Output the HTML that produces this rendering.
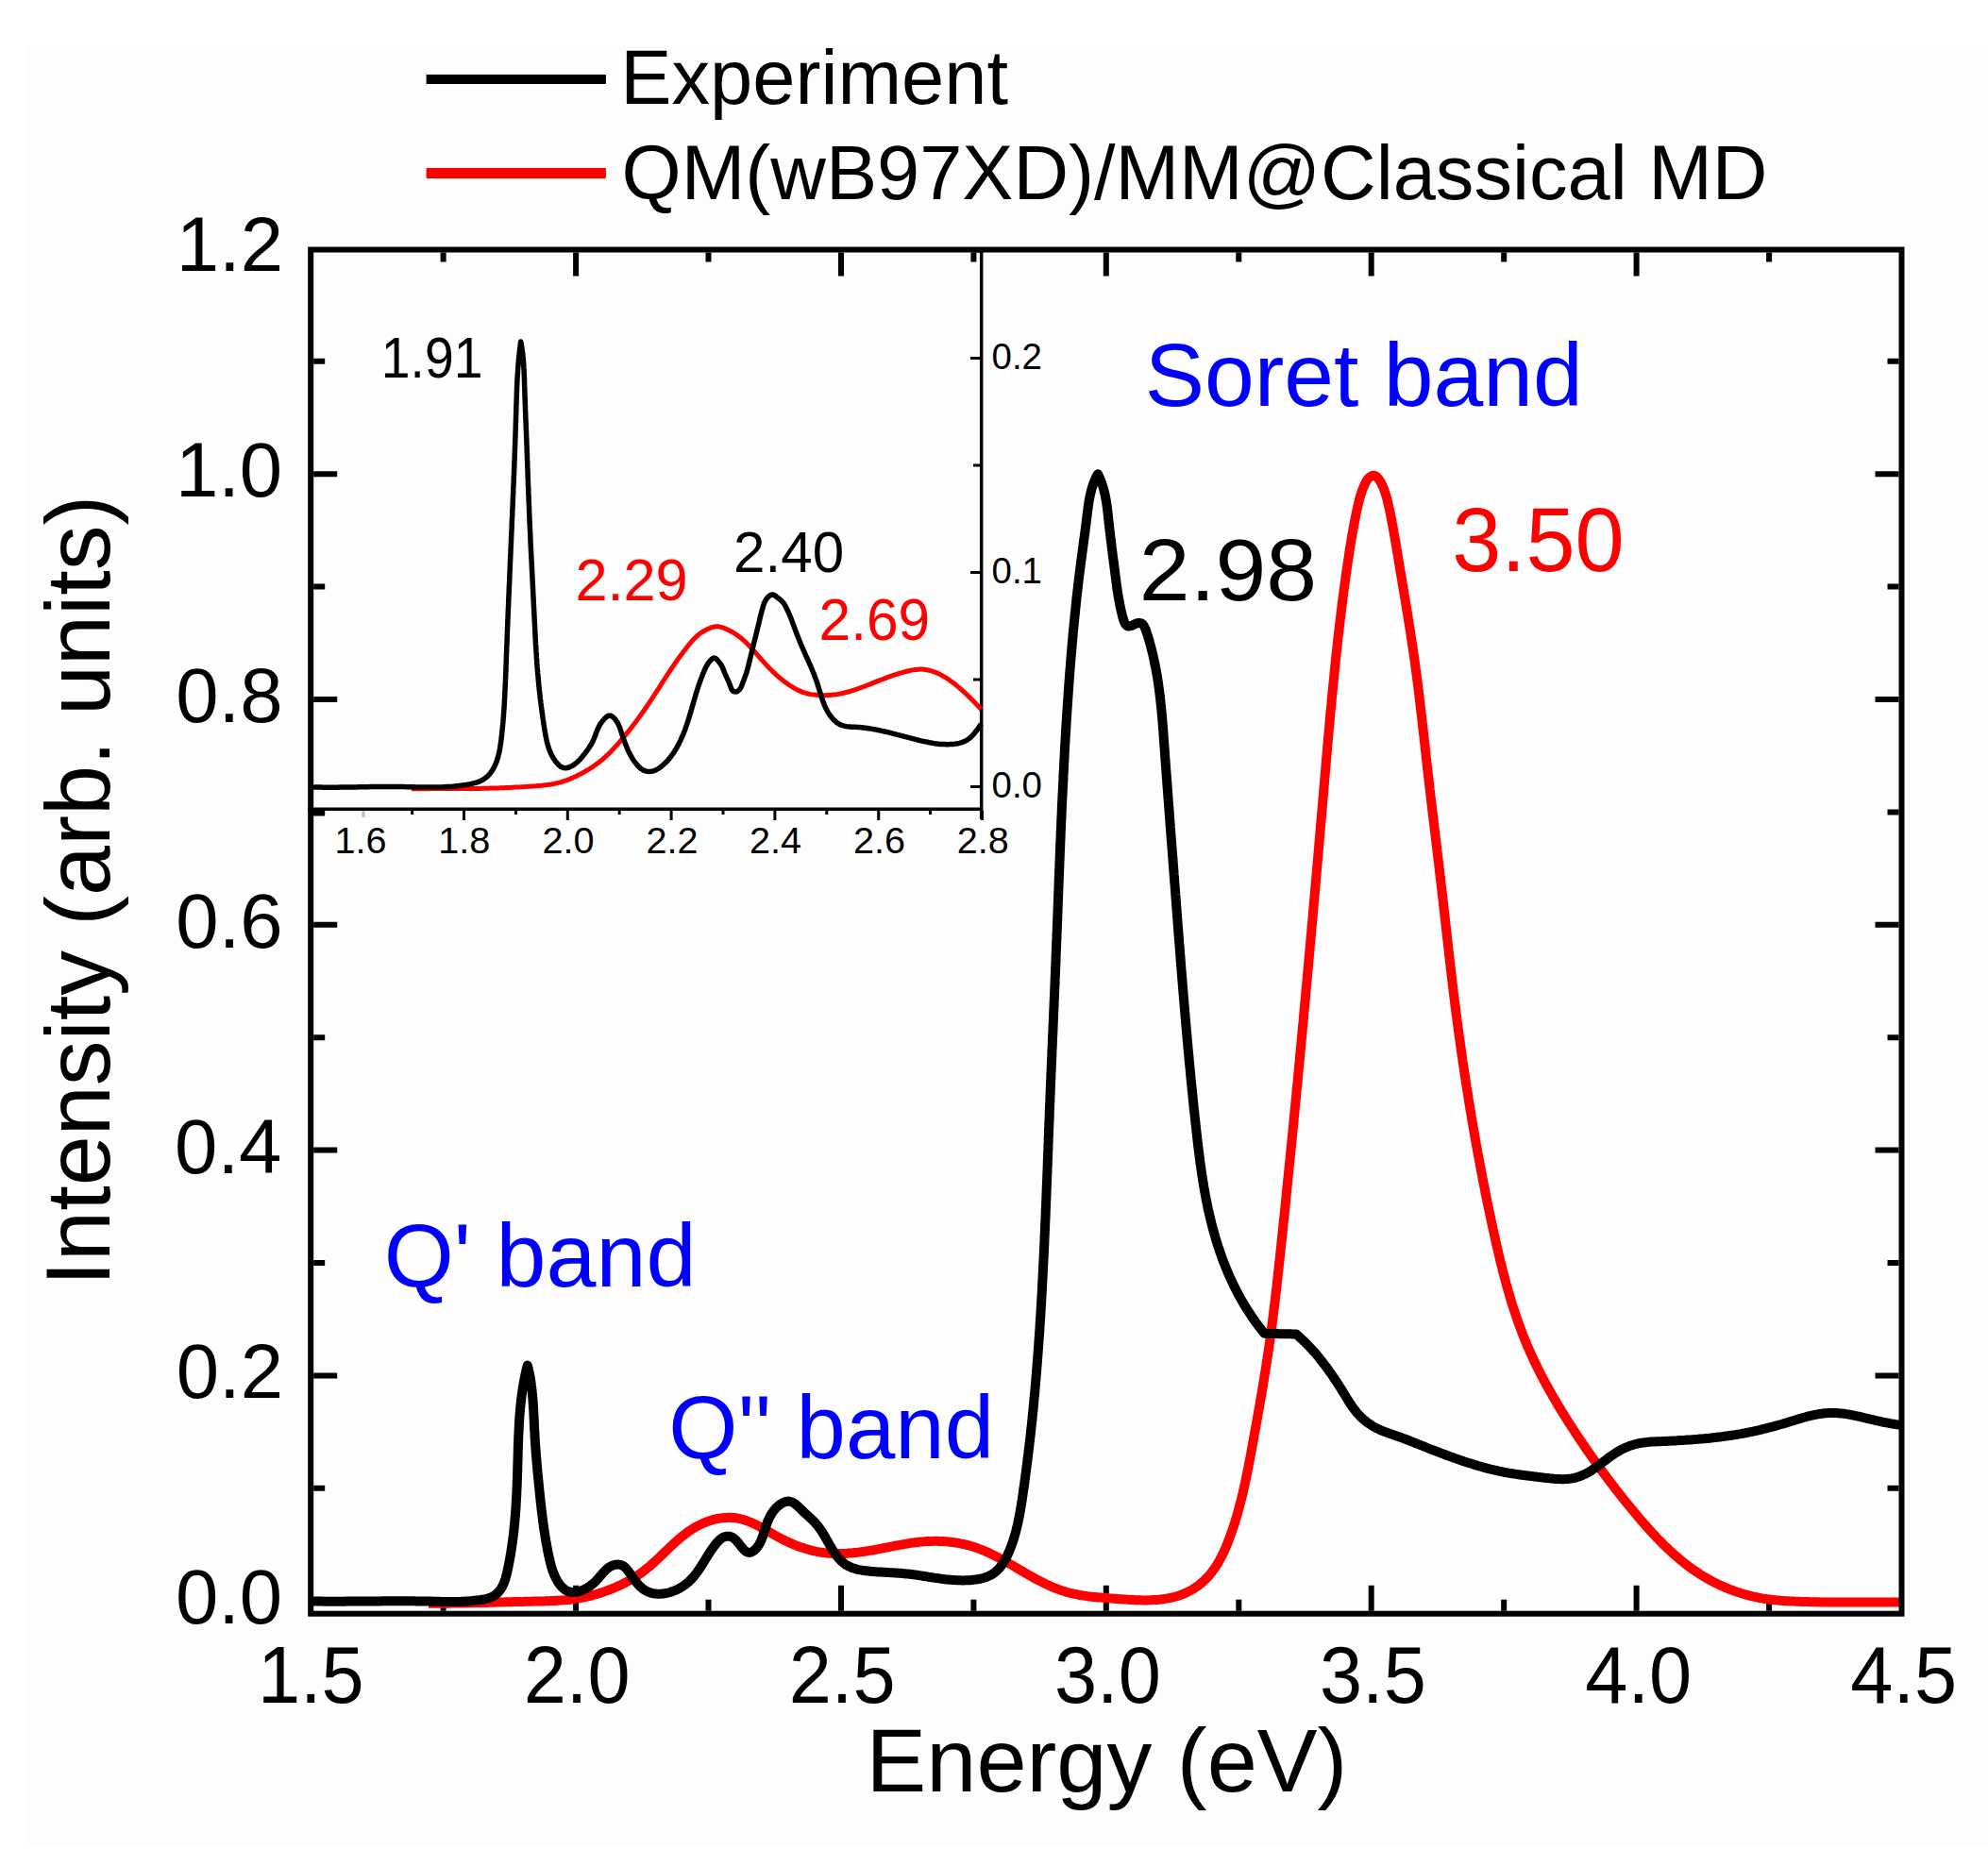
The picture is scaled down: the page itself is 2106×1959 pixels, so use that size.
<!DOCTYPE html>
<html><head><meta charset="utf-8"><title>Absorption spectrum</title>
<style>html,body{margin:0;padding:0;background:#fff;}svg{display:block;}</style></head>
<body>
<svg width="2106" height="1959" viewBox="0 0 2106 1959" style="font-family:'Liberation Sans', Arial, sans-serif">
<rect width="2106" height="1959" fill="#fff"/>
<rect x="28" y="50" width="2078" height="1905" fill="#fefdfe"/>
<line x1="451.6" y1="84" x2="641.9" y2="84" stroke="#000" stroke-width="10"/>
<line x1="451.6" y1="183.6" x2="641.9" y2="183.6" stroke="#f00" stroke-width="11"/>
<text transform="translate(657.34,110.40) scale(0.9903,1)" font-size="82" fill="#000">Experiment</text>
<text transform="translate(658.59,210.80) scale(0.9896,1)" font-size="82" fill="#000">QM(wB97XD)/MM@Classical MD</text>
<path d="M469.6,1706.7V1694.7 M469.6,267.5V277.5 M610.1,1706.7V1679.7 M610.1,267.5V292.5 M750.5,1706.7V1694.7 M750.5,267.5V277.5 M891.0,1706.7V1679.7 M891.0,267.5V292.5 M1031.4,1706.7V1694.7 M1031.4,267.5V277.5 M1171.8,1706.7V1679.7 M1171.8,267.5V292.5 M1312.3,1706.7V1694.7 M1312.3,267.5V277.5 M1452.7,1706.7V1679.7 M1452.7,267.5V292.5 M1593.2,1706.7V1694.7 M1593.2,267.5V277.5 M1733.6,1706.7V1679.7 M1733.6,267.5V292.5 M1874.1,1706.7V1694.7 M1874.1,267.5V277.5 M332.2,1696.2H357.2 M2011.5,1696.2H1986.5 M332.2,1576.8H344.2 M2011.5,1576.8H1999.5 M332.2,1457.4H357.2 M2011.5,1457.4H1986.5 M332.2,1338.0H344.2 M2011.5,1338.0H1999.5 M332.2,1218.6H357.2 M2011.5,1218.6H1986.5 M332.2,1099.2H344.2 M2011.5,1099.2H1999.5 M332.2,979.8H357.2 M2011.5,979.8H1986.5 M332.2,860.4H344.2 M2011.5,860.4H1999.5 M332.2,741.0H357.2 M2011.5,741.0H1986.5 M332.2,621.6H344.2 M2011.5,621.6H1999.5 M332.2,502.2H357.2 M2011.5,502.2H1986.5 M332.2,382.8H344.2 M2011.5,382.8H1999.5" stroke="#000" stroke-width="6" fill="none"/>
<path d="M326,857.2H1041.2M1039.7,264V868" stroke="#000" stroke-width="3.5" fill="none"/>
<path d="M385,859V866" stroke="#bbb" stroke-width="3"/>
<path d="M436.6,858.9V862.9 M491.5,858.9V868.9 M546.4,858.9V862.9 M601.3,858.9V868.9 M656.2,858.9V862.9 M711.1,858.9V868.9 M766.0,858.9V862.9 M820.9,858.9V868.9 M875.8,858.9V862.9 M930.7,858.9V868.9 M985.6,858.9V862.9 M1040.5,858.9V868.9 M1038.0,833.5H1028.0 M1038.0,720.0H1031.0 M1038.0,606.5H1028.0 M1038.0,493.0H1031.0 M1038.0,379.5H1028.0 M1038.0,266.0H1031.0" stroke="#000" stroke-width="3" fill="none"/>
<rect x="332" y="858.5" width="12" height="6" fill="#000"/>
<path d="M454.0,1698.8 L456.0,1698.8 L458.0,1698.8 L460.0,1698.8 L462.0,1698.8 L464.0,1698.8 L466.0,1698.8 L468.0,1698.7 L470.0,1698.7 L472.0,1698.7 L474.0,1698.7 L476.0,1698.7 L478.0,1698.6 L480.0,1698.6 L482.0,1698.6 L484.0,1698.5 L486.0,1698.5 L488.0,1698.5 L490.0,1698.4 L492.0,1698.4 L494.0,1698.4 L496.0,1698.3 L498.0,1698.3 L500.0,1698.2 L502.0,1698.2 L504.0,1698.1 L506.0,1698.1 L508.0,1698.1 L510.0,1698.0 L512.0,1698.0 L514.0,1697.9 L516.0,1697.9 L518.0,1697.8 L520.0,1697.8 L522.0,1697.7 L524.0,1697.7 L526.0,1697.6 L528.0,1697.6 L530.0,1697.5 L532.0,1697.4 L534.0,1697.4 L536.0,1697.3 L538.0,1697.3 L540.0,1697.2 L542.0,1697.2 L544.0,1697.1 L546.0,1697.1 L548.0,1697.0 L550.0,1697.0 L552.0,1696.9 L554.0,1696.9 L556.0,1696.8 L558.0,1696.8 L560.0,1696.8 L562.0,1696.7 L564.0,1696.7 L566.0,1696.6 L568.0,1696.6 L570.0,1696.5 L572.0,1696.5 L573.9,1696.5 L575.9,1696.4 L577.9,1696.3 L579.9,1696.3 L581.9,1696.2 L583.9,1696.1 L585.9,1696.0 L587.9,1695.9 L589.9,1695.8 L591.9,1695.7 L593.9,1695.6 L595.9,1695.4 L597.9,1695.3 L599.8,1695.1 L601.8,1694.9 L603.8,1694.7 L605.8,1694.4 L607.8,1694.2 L609.7,1693.9 L611.7,1693.6 L613.7,1693.3 L615.6,1692.9 L617.6,1692.5 L619.6,1692.1 L621.5,1691.7 L623.5,1691.2 L625.4,1690.8 L627.4,1690.3 L629.3,1689.7 L631.3,1689.2 L633.2,1688.6 L635.1,1688.0 L637.0,1687.4 L638.9,1686.8 L640.8,1686.1 L642.7,1685.4 L644.6,1684.7 L646.5,1684.0 L648.3,1683.2 L650.2,1682.5 L652.0,1681.7 L653.8,1680.9 L655.6,1680.1 L657.4,1679.2 L659.2,1678.4 L661.0,1677.5 L662.7,1676.6 L664.5,1675.7 L666.2,1674.7 L667.9,1673.7 L669.6,1672.7 L671.3,1671.7 L673.0,1670.7 L674.6,1669.6 L676.3,1668.5 L677.9,1667.4 L679.5,1666.2 L681.1,1665.0 L682.7,1663.8 L684.3,1662.6 L685.8,1661.3 L687.3,1660.1 L688.9,1658.8 L690.4,1657.5 L691.9,1656.1 L693.4,1654.8 L694.9,1653.4 L696.3,1652.1 L697.8,1650.7 L699.3,1649.3 L700.7,1647.9 L702.2,1646.5 L703.6,1645.1 L705.1,1643.7 L706.5,1642.3 L708.0,1640.9 L709.4,1639.5 L710.9,1638.1 L712.4,1636.8 L713.8,1635.4 L715.3,1634.0 L716.8,1632.7 L718.3,1631.4 L719.8,1630.1 L721.4,1628.8 L722.9,1627.5 L724.5,1626.3 L726.0,1625.1 L727.6,1623.9 L729.3,1622.7 L730.9,1621.6 L732.6,1620.5 L734.3,1619.4 L736.0,1618.4 L737.7,1617.4 L739.5,1616.5 L741.3,1615.5 L743.1,1614.7 L744.9,1613.9 L746.8,1613.1 L748.6,1612.3 L750.5,1611.7 L752.4,1611.0 L754.3,1610.4 L756.3,1609.9 L758.2,1609.4 L760.1,1609.0 L762.1,1608.7 L764.0,1608.4 L766.0,1608.1 L767.9,1608.0 L769.9,1607.9 L771.8,1607.8 L773.8,1607.8 L775.7,1607.9 L777.7,1608.1 L779.6,1608.3 L781.5,1608.6 L783.4,1609.0 L785.3,1609.5 L787.2,1610.0 L789.0,1610.6 L790.9,1611.2 L792.7,1611.9 L794.6,1612.6 L796.4,1613.4 L798.2,1614.2 L800.1,1615.1 L801.9,1616.0 L803.7,1616.9 L805.5,1617.9 L807.3,1618.9 L809.1,1619.9 L810.9,1620.9 L812.7,1621.9 L814.5,1622.9 L816.3,1623.9 L818.1,1625.0 L819.9,1626.0 L821.7,1627.0 L823.5,1628.0 L825.3,1629.0 L827.1,1629.9 L829.0,1630.9 L830.8,1631.8 L832.6,1632.7 L834.4,1633.5 L836.3,1634.4 L838.1,1635.2 L839.9,1636.0 L841.8,1636.7 L843.6,1637.5 L845.5,1638.2 L847.4,1638.9 L849.2,1639.5 L851.1,1640.1 L853.0,1640.7 L854.9,1641.3 L856.7,1641.8 L858.6,1642.3 L860.5,1642.8 L862.4,1643.3 L864.3,1643.7 L866.3,1644.1 L868.2,1644.4 L870.1,1644.7 L872.0,1645.0 L874.0,1645.3 L875.9,1645.5 L877.9,1645.7 L879.8,1645.8 L881.8,1645.9 L883.8,1646.0 L885.8,1646.1 L887.7,1646.1 L889.7,1646.1 L891.7,1646.1 L893.7,1646.0 L895.7,1645.9 L897.7,1645.8 L899.7,1645.6 L901.7,1645.5 L903.7,1645.3 L905.7,1645.1 L907.7,1644.9 L909.7,1644.6 L911.8,1644.3 L913.8,1644.1 L915.8,1643.8 L917.8,1643.5 L919.8,1643.1 L921.8,1642.8 L923.8,1642.5 L925.8,1642.1 L927.8,1641.7 L929.7,1641.4 L931.7,1641.0 L933.7,1640.6 L935.7,1640.2 L937.7,1639.8 L939.6,1639.5 L941.6,1639.1 L943.6,1638.7 L945.5,1638.3 L947.5,1637.9 L949.5,1637.5 L951.4,1637.2 L953.4,1636.8 L955.4,1636.5 L957.3,1636.1 L959.3,1635.8 L961.3,1635.5 L963.2,1635.1 L965.2,1634.8 L967.2,1634.6 L969.1,1634.3 L971.1,1634.1 L973.1,1633.8 L975.1,1633.6 L977.0,1633.4 L979.0,1633.3 L981.0,1633.1 L983.0,1633.0 L985.0,1632.9 L986.9,1632.9 L988.9,1632.8 L990.9,1632.8 L992.9,1632.8 L994.9,1632.9 L996.9,1632.9 L998.9,1633.0 L1000.9,1633.2 L1002.9,1633.3 L1004.9,1633.5 L1006.8,1633.7 L1008.8,1633.9 L1010.8,1634.2 L1012.8,1634.5 L1014.7,1634.8 L1016.7,1635.2 L1018.6,1635.6 L1020.6,1636.0 L1022.5,1636.4 L1024.4,1636.9 L1026.4,1637.4 L1028.3,1637.9 L1030.2,1638.5 L1032.1,1639.1 L1033.9,1639.7 L1035.8,1640.4 L1037.7,1641.1 L1039.5,1641.8 L1041.4,1642.5 L1043.2,1643.3 L1045.0,1644.1 L1046.8,1644.9 L1048.6,1645.7 L1050.4,1646.6 L1052.2,1647.5 L1054.0,1648.4 L1055.8,1649.3 L1057.5,1650.2 L1059.3,1651.1 L1061.1,1652.1 L1062.8,1653.0 L1064.6,1654.0 L1066.3,1655.0 L1068.1,1656.0 L1069.8,1657.0 L1071.6,1658.0 L1073.3,1659.0 L1075.1,1660.0 L1076.8,1661.1 L1078.5,1662.1 L1080.3,1663.1 L1082.0,1664.1 L1083.7,1665.1 L1085.5,1666.1 L1087.2,1667.2 L1089.0,1668.2 L1090.7,1669.2 L1092.5,1670.1 L1094.2,1671.1 L1096.0,1672.1 L1097.7,1673.1 L1099.5,1674.0 L1101.3,1674.9 L1103.0,1675.8 L1104.8,1676.7 L1106.6,1677.6 L1108.4,1678.5 L1110.2,1679.3 L1112.0,1680.2 L1113.8,1681.0 L1115.7,1681.7 L1117.5,1682.5 L1119.3,1683.2 L1121.2,1683.9 L1123.0,1684.6 L1124.9,1685.2 L1126.8,1685.8 L1128.7,1686.4 L1130.6,1687.0 L1132.5,1687.5 L1134.4,1688.0 L1136.4,1688.4 L1138.3,1688.8 L1140.3,1689.2 L1142.3,1689.6 L1144.2,1690.0 L1146.2,1690.3 L1148.2,1690.6 L1150.2,1690.9 L1152.2,1691.2 L1154.2,1691.4 L1156.2,1691.7 L1158.2,1691.9 L1160.2,1692.1 L1162.2,1692.3 L1164.2,1692.5 L1166.2,1692.6 L1168.3,1692.8 L1170.3,1693.0 L1172.3,1693.1 L1174.3,1693.3 L1176.3,1693.4 L1178.3,1693.6 L1180.4,1693.7 L1182.4,1693.9 L1184.4,1694.0 L1186.4,1694.2 L1188.4,1694.3 L1190.4,1694.5 L1192.4,1694.6 L1194.4,1694.7 L1196.3,1694.9 L1198.3,1695.0 L1200.3,1695.1 L1202.3,1695.2 L1204.3,1695.2 L1206.3,1695.3 L1208.2,1695.3 L1210.2,1695.4 L1212.2,1695.4 L1214.2,1695.4 L1216.1,1695.4 L1218.1,1695.3 L1220.1,1695.2 L1222.1,1695.1 L1224.0,1695.0 L1226.0,1694.9 L1228.0,1694.7 L1230.0,1694.5 L1231.9,1694.2 L1233.9,1693.9 L1235.9,1693.6 L1237.8,1693.3 L1239.8,1692.9 L1241.7,1692.5 L1243.7,1692.0 L1245.6,1691.5 L1247.5,1690.9 L1249.4,1690.3 L1251.3,1689.6 L1253.2,1688.9 L1255.0,1688.1 L1256.9,1687.3 L1258.7,1686.4 L1260.5,1685.5 L1262.3,1684.5 L1264.0,1683.5 L1265.7,1682.4 L1267.4,1681.2 L1269.1,1680.1 L1270.7,1678.8 L1272.3,1677.6 L1273.8,1676.3 L1275.3,1674.9 L1276.7,1673.6 L1278.1,1672.1 L1279.5,1670.7 L1280.8,1669.2 L1282.1,1667.7 L1283.3,1666.2 L1284.5,1664.6 L1285.7,1663.0 L1286.8,1661.4 L1287.9,1659.8 L1289.0,1658.1 L1290.0,1656.4 L1291.0,1654.7 L1292.0,1653.0 L1292.9,1651.2 L1293.8,1649.5 L1294.7,1647.7 L1295.6,1645.9 L1296.5,1644.1 L1297.3,1642.3 L1298.1,1640.4 L1298.9,1638.6 L1299.6,1636.7 L1300.4,1634.9 L1301.1,1633.0 L1301.8,1631.1 L1302.6,1629.3 L1303.2,1627.4 L1303.9,1625.5 L1304.6,1623.6 L1305.3,1621.7 L1305.9,1619.8 L1306.5,1618.0 L1307.2,1616.1 L1307.8,1614.2 L1308.4,1612.3 L1309.0,1610.3 L1309.5,1608.4 L1310.1,1606.5 L1310.7,1604.6 L1311.2,1602.7 L1311.7,1600.8 L1312.3,1598.8 L1312.8,1596.9 L1313.3,1595.0 L1313.8,1593.1 L1314.3,1591.1 L1314.8,1589.2 L1315.3,1587.2 L1315.7,1585.3 L1316.2,1583.4 L1316.7,1581.4 L1317.1,1579.5 L1317.6,1577.5 L1318.0,1575.6 L1318.4,1573.6 L1318.9,1571.7 L1319.3,1569.7 L1319.7,1567.8 L1320.1,1565.8 L1320.5,1563.8 L1320.9,1561.9 L1321.3,1559.9 L1321.7,1558.0 L1322.1,1556.0 L1322.5,1554.0 L1322.8,1552.1 L1323.2,1550.1 L1323.6,1548.1 L1324.0,1546.2 L1324.3,1544.2 L1324.7,1542.2 L1325.1,1540.3 L1325.4,1538.3 L1325.8,1536.3 L1326.2,1534.4 L1326.5,1532.4 L1326.9,1530.4 L1327.2,1528.4 L1327.6,1526.5 L1328.0,1524.5 L1328.3,1522.5 L1328.7,1520.6 L1329.0,1518.6 L1329.4,1516.6 L1329.8,1514.7 L1330.1,1512.7 L1330.5,1510.7 L1330.8,1508.8 L1331.2,1506.8 L1331.5,1504.8 L1331.9,1502.8 L1332.2,1500.9 L1332.6,1498.9 L1332.9,1496.9 L1333.3,1495.0 L1333.6,1493.0 L1334.0,1491.0 L1334.3,1489.1 L1334.7,1487.1 L1335.0,1485.1 L1335.3,1483.2 L1335.7,1481.2 L1336.0,1479.2 L1336.4,1477.2 L1336.7,1475.3 L1337.0,1473.3 L1337.4,1471.3 L1337.7,1469.4 L1338.0,1467.4 L1338.3,1465.4 L1338.7,1463.4 L1339.0,1461.5 L1339.3,1459.5 L1339.6,1457.5 L1339.9,1455.6 L1340.3,1453.6 L1340.6,1451.6 L1340.9,1449.6 L1341.2,1447.7 L1341.5,1445.7 L1341.8,1443.7 L1342.1,1441.7 L1342.4,1439.8 L1342.7,1437.8 L1343.0,1435.8 L1343.3,1433.8 L1343.6,1431.9 L1343.9,1429.9 L1344.2,1427.9 L1344.5,1425.9 L1344.7,1424.0 L1345.0,1422.0 L1345.3,1420.0 L1345.6,1418.0 L1345.8,1416.0 L1346.1,1414.1 L1346.4,1412.1 L1346.7,1410.1 L1346.9,1408.1 L1347.2,1406.1 L1347.4,1404.2 L1347.7,1402.2 L1347.9,1400.2 L1348.2,1398.2 L1348.5,1396.2 L1348.7,1394.2 L1349.0,1392.3 L1349.2,1390.3 L1349.4,1388.3 L1349.7,1386.3 L1349.9,1384.3 L1350.2,1382.3 L1350.4,1380.4 L1350.6,1378.4 L1350.9,1376.4 L1351.1,1374.4 L1351.3,1372.4 L1351.6,1370.4 L1351.8,1368.4 L1352.0,1366.5 L1352.3,1364.5 L1352.5,1362.5 L1352.7,1360.5 L1352.9,1358.5 L1353.2,1356.5 L1353.4,1354.5 L1353.6,1352.6 L1353.8,1350.6 L1354.0,1348.6 L1354.3,1346.6 L1354.5,1344.6 L1354.7,1342.6 L1354.9,1340.6 L1355.1,1338.6 L1355.3,1336.7 L1355.6,1334.7 L1355.8,1332.7 L1356.0,1330.7 L1356.2,1328.7 L1356.4,1326.7 L1356.6,1324.7 L1356.8,1322.7 L1357.0,1320.7 L1357.2,1318.8 L1357.5,1316.8 L1357.7,1314.8 L1357.9,1312.8 L1358.1,1310.8 L1358.3,1308.8 L1358.5,1306.8 L1358.7,1304.8 L1358.9,1302.8 L1359.1,1300.9 L1359.3,1298.9 L1359.5,1296.9 L1359.7,1294.9 L1359.9,1292.9 L1360.2,1290.9 L1360.4,1288.9 L1360.6,1286.9 L1360.8,1284.9 L1361.0,1283.0 L1361.2,1281.0 L1361.4,1279.0 L1361.6,1277.0 L1361.8,1275.0 L1362.0,1273.0 L1362.2,1271.0 L1362.4,1269.0 L1362.6,1267.0 L1362.8,1265.1 L1363.0,1263.1 L1363.2,1261.1 L1363.4,1259.1 L1363.6,1257.1 L1363.8,1255.1 L1364.0,1253.1 L1364.2,1251.1 L1364.4,1249.1 L1364.6,1247.1 L1364.8,1245.2 L1365.0,1243.2 L1365.2,1241.2 L1365.4,1239.2 L1365.6,1237.2 L1365.8,1235.2 L1366.0,1233.2 L1366.2,1231.2 L1366.4,1229.2 L1366.6,1227.3 L1366.8,1225.3 L1367.0,1223.3 L1367.2,1221.3 L1367.4,1219.3 L1367.6,1217.3 L1367.8,1215.3 L1368.0,1213.3 L1368.2,1211.3 L1368.4,1209.3 L1368.6,1207.4 L1368.8,1205.4 L1369.0,1203.4 L1369.2,1201.4 L1369.4,1199.4 L1369.6,1197.4 L1369.8,1195.4 L1370.0,1193.4 L1370.2,1191.4 L1370.4,1189.4 L1370.5,1187.5 L1370.7,1185.5 L1370.9,1183.5 L1371.1,1181.5 L1371.3,1179.5 L1371.5,1177.5 L1371.7,1175.5 L1371.9,1173.5 L1372.1,1171.5 L1372.3,1169.5 L1372.5,1167.6 L1372.7,1165.6 L1372.9,1163.6 L1373.1,1161.6 L1373.3,1159.6 L1373.4,1157.6 L1373.6,1155.6 L1373.8,1153.6 L1374.0,1151.6 L1374.2,1149.6 L1374.4,1147.7 L1374.6,1145.7 L1374.8,1143.7 L1375.0,1141.7 L1375.2,1139.7 L1375.3,1137.7 L1375.5,1135.7 L1375.7,1133.7 L1375.9,1131.7 L1376.1,1129.7 L1376.3,1127.8 L1376.5,1125.8 L1376.7,1123.8 L1376.9,1121.8 L1377.0,1119.8 L1377.2,1117.8 L1377.4,1115.8 L1377.6,1113.8 L1377.8,1111.8 L1378.0,1109.8 L1378.2,1107.8 L1378.4,1105.9 L1378.5,1103.9 L1378.7,1101.9 L1378.9,1099.9 L1379.1,1097.9 L1379.3,1095.9 L1379.5,1093.9 L1379.7,1091.9 L1379.8,1089.9 L1380.0,1087.9 L1380.2,1086.0 L1380.4,1084.0 L1380.6,1082.0 L1380.8,1080.0 L1381.0,1078.0 L1381.1,1076.0 L1381.3,1074.0 L1381.5,1072.0 L1381.7,1070.0 L1381.9,1068.0 L1382.1,1066.0 L1382.2,1064.1 L1382.4,1062.1 L1382.6,1060.1 L1382.8,1058.1 L1383.0,1056.1 L1383.2,1054.1 L1383.3,1052.1 L1383.5,1050.1 L1383.7,1048.1 L1383.9,1046.1 L1384.1,1044.1 L1384.2,1042.2 L1384.4,1040.2 L1384.6,1038.2 L1384.8,1036.2 L1385.0,1034.2 L1385.2,1032.2 L1385.3,1030.2 L1385.5,1028.2 L1385.7,1026.2 L1385.9,1024.2 L1386.1,1022.2 L1386.2,1020.2 L1386.4,1018.3 L1386.6,1016.3 L1386.8,1014.3 L1387.0,1012.3 L1387.1,1010.3 L1387.3,1008.3 L1387.5,1006.3 L1387.7,1004.3 L1387.8,1002.3 L1388.0,1000.3 L1388.2,998.3 L1388.4,996.4 L1388.6,994.4 L1388.7,992.4 L1388.9,990.4 L1389.1,988.4 L1389.3,986.4 L1389.4,984.4 L1389.6,982.4 L1389.8,980.4 L1390.0,978.4 L1390.2,976.4 L1390.3,974.4 L1390.5,972.5 L1390.7,970.5 L1390.9,968.5 L1391.0,966.5 L1391.2,964.5 L1391.4,962.5 L1391.6,960.5 L1391.7,958.5 L1391.9,956.5 L1392.1,954.5 L1392.3,952.5 L1392.5,950.6 L1392.6,948.6 L1392.8,946.6 L1393.0,944.6 L1393.2,942.6 L1393.3,940.6 L1393.5,938.6 L1393.7,936.6 L1393.9,934.6 L1394.0,932.6 L1394.2,930.6 L1394.4,928.6 L1394.5,926.7 L1394.7,924.7 L1394.9,922.7 L1395.1,920.7 L1395.2,918.7 L1395.4,916.7 L1395.6,914.7 L1395.8,912.7 L1395.9,910.7 L1396.1,908.7 L1396.3,906.7 L1396.5,904.7 L1396.6,902.8 L1396.8,900.8 L1397.0,898.8 L1397.2,896.8 L1397.3,894.8 L1397.5,892.8 L1397.7,890.8 L1397.8,888.8 L1398.0,886.8 L1398.2,884.8 L1398.4,882.8 L1398.5,880.8 L1398.7,878.8 L1398.9,876.9 L1399.0,874.9 L1399.2,872.9 L1399.4,870.9 L1399.6,868.9 L1399.7,866.9 L1399.9,864.9 L1400.1,862.9 L1400.2,860.9 L1400.4,858.9 L1400.6,856.9 L1400.8,854.9 L1400.9,853.0 L1401.1,851.0 L1401.3,849.0 L1401.4,847.0 L1401.6,845.0 L1401.8,843.0 L1402.0,841.0 L1402.1,839.0 L1402.3,837.0 L1402.5,835.0 L1402.6,833.0 L1402.8,831.0 L1403.0,829.0 L1403.1,827.1 L1403.3,825.1 L1403.5,823.1 L1403.7,821.1 L1403.8,819.1 L1404.0,817.1 L1404.2,815.1 L1404.3,813.1 L1404.5,811.1 L1404.7,809.1 L1404.9,807.1 L1405.0,805.1 L1405.2,803.1 L1405.4,801.2 L1405.5,799.2 L1405.7,797.2 L1405.9,795.2 L1406.1,793.2 L1406.2,791.2 L1406.4,789.2 L1406.6,787.2 L1406.8,785.2 L1406.9,783.2 L1407.1,781.2 L1407.3,779.2 L1407.5,777.3 L1407.6,775.3 L1407.8,773.3 L1408.0,771.3 L1408.2,769.3 L1408.4,767.3 L1408.5,765.3 L1408.7,763.3 L1408.9,761.3 L1409.1,759.3 L1409.3,757.3 L1409.4,755.4 L1409.6,753.4 L1409.8,751.4 L1410.0,749.4 L1410.2,747.4 L1410.4,745.4 L1410.6,743.4 L1410.7,741.4 L1410.9,739.4 L1411.1,737.4 L1411.3,735.4 L1411.5,733.5 L1411.7,731.5 L1411.9,729.5 L1412.1,727.5 L1412.3,725.5 L1412.5,723.5 L1412.7,721.5 L1412.9,719.5 L1413.1,717.5 L1413.3,715.6 L1413.5,713.6 L1413.7,711.6 L1413.9,709.6 L1414.1,707.6 L1414.3,705.6 L1414.5,703.6 L1414.7,701.6 L1414.9,699.6 L1415.1,697.7 L1415.3,695.7 L1415.5,693.7 L1415.7,691.7 L1416.0,689.7 L1416.2,687.7 L1416.4,685.7 L1416.6,683.7 L1416.8,681.8 L1417.0,679.8 L1417.3,677.8 L1417.5,675.8 L1417.7,673.8 L1417.9,671.8 L1418.2,669.8 L1418.4,667.9 L1418.6,665.9 L1418.9,663.9 L1419.1,661.9 L1419.3,659.9 L1419.6,657.9 L1419.8,655.9 L1420.0,654.0 L1420.3,652.0 L1420.5,650.0 L1420.8,648.0 L1421.0,646.0 L1421.3,644.0 L1421.5,642.0 L1421.7,640.1 L1422.0,638.1 L1422.3,636.1 L1422.5,634.1 L1422.8,632.1 L1423.0,630.1 L1423.3,628.2 L1423.5,626.2 L1423.8,624.2 L1424.1,622.2 L1424.3,620.2 L1424.6,618.3 L1424.9,616.3 L1425.2,614.3 L1425.4,612.3 L1425.7,610.3 L1426.0,608.3 L1426.3,606.4 L1426.5,604.4 L1426.8,602.4 L1427.1,600.4 L1427.4,598.4 L1427.7,596.5 L1428.0,594.5 L1428.3,592.5 L1428.6,590.5 L1428.9,588.5 L1429.2,586.6 L1429.5,584.6 L1429.8,582.6 L1430.1,580.6 L1430.4,578.7 L1430.7,576.7 L1431.1,574.7 L1431.4,572.7 L1431.7,570.8 L1432.0,568.8 L1432.4,566.8 L1432.7,564.9 L1433.1,562.9 L1433.4,560.9 L1433.8,559.0 L1434.1,557.0 L1434.5,555.0 L1434.9,553.1 L1435.3,551.1 L1435.7,549.2 L1436.0,547.2 L1436.4,545.3 L1436.8,543.3 L1437.3,541.4 L1437.7,539.4 L1438.1,537.5 L1438.5,535.5 L1439.0,533.6 L1439.4,531.7 L1439.9,529.7 L1440.4,527.8 L1441.0,525.9 L1441.6,524.0 L1442.2,522.1 L1442.8,520.2 L1443.5,518.3 L1444.3,516.5 L1445.1,514.6 L1445.9,512.7 L1446.8,510.9 L1447.9,509.1 L1449.0,507.5 L1450.4,506.0 L1452.0,504.8 L1453.7,503.9 L1455.6,503.7 L1457.3,504.4 L1458.9,505.6 L1460.3,507.3 L1461.5,509.0 L1462.6,510.7 L1463.5,512.5 L1464.3,514.2 L1465.1,516.0 L1465.9,517.8 L1466.6,519.7 L1467.2,521.5 L1467.8,523.4 L1468.4,525.4 L1469.0,527.3 L1469.5,529.2 L1470.0,531.2 L1470.4,533.2 L1470.9,535.1 L1471.3,537.1 L1471.8,539.1 L1472.2,541.1 L1472.6,543.1 L1473.0,545.0 L1473.4,547.0 L1473.8,549.0 L1474.2,550.9 L1474.5,552.9 L1474.9,554.9 L1475.3,556.9 L1475.6,558.8 L1476.0,560.8 L1476.3,562.8 L1476.7,564.7 L1477.0,566.7 L1477.4,568.6 L1477.7,570.6 L1478.1,572.6 L1478.4,574.5 L1478.7,576.5 L1479.1,578.5 L1479.4,580.4 L1479.7,582.4 L1480.0,584.4 L1480.4,586.3 L1480.7,588.3 L1481.0,590.2 L1481.4,592.2 L1481.7,594.2 L1482.0,596.1 L1482.3,598.1 L1482.7,600.1 L1483.0,602.0 L1483.3,604.0 L1483.7,606.0 L1484.0,607.9 L1484.3,609.9 L1484.7,611.9 L1485.0,613.8 L1485.3,615.8 L1485.6,617.8 L1486.0,619.7 L1486.3,621.7 L1486.6,623.7 L1487.0,625.7 L1487.3,627.6 L1487.6,629.6 L1487.9,631.6 L1488.3,633.5 L1488.6,635.5 L1488.9,637.5 L1489.2,639.5 L1489.6,641.4 L1489.9,643.4 L1490.2,645.4 L1490.5,647.4 L1490.9,649.3 L1491.2,651.3 L1491.5,653.3 L1491.8,655.3 L1492.1,657.2 L1492.4,659.2 L1492.8,661.2 L1493.1,663.2 L1493.4,665.1 L1493.7,667.1 L1494.0,669.1 L1494.3,671.1 L1494.6,673.1 L1494.9,675.0 L1495.2,677.0 L1495.5,679.0 L1495.8,681.0 L1496.1,682.9 L1496.4,684.9 L1496.7,686.9 L1497.0,688.9 L1497.3,690.9 L1497.6,692.8 L1497.8,694.8 L1498.1,696.8 L1498.4,698.8 L1498.7,700.8 L1499.0,702.8 L1499.2,704.7 L1499.5,706.7 L1499.8,708.7 L1500.0,710.7 L1500.3,712.7 L1500.6,714.6 L1500.8,716.6 L1501.1,718.6 L1501.3,720.6 L1501.6,722.6 L1501.8,724.6 L1502.1,726.5 L1502.3,728.5 L1502.6,730.5 L1502.8,732.5 L1503.1,734.5 L1503.3,736.5 L1503.6,738.5 L1503.8,740.4 L1504.0,742.4 L1504.3,744.4 L1504.5,746.4 L1504.7,748.4 L1505.0,750.4 L1505.2,752.4 L1505.4,754.3 L1505.7,756.3 L1505.9,758.3 L1506.1,760.3 L1506.4,762.3 L1506.6,764.3 L1506.8,766.3 L1507.0,768.2 L1507.3,770.2 L1507.5,772.2 L1507.7,774.2 L1507.9,776.2 L1508.2,778.2 L1508.4,780.2 L1508.6,782.1 L1508.8,784.1 L1509.0,786.1 L1509.3,788.1 L1509.5,790.1 L1509.7,792.1 L1509.9,794.1 L1510.1,796.0 L1510.4,798.0 L1510.6,800.0 L1510.8,802.0 L1511.0,804.0 L1511.3,806.0 L1511.5,808.0 L1511.7,809.9 L1511.9,811.9 L1512.1,813.9 L1512.4,815.9 L1512.6,817.9 L1512.8,819.9 L1513.0,821.9 L1513.3,823.8 L1513.5,825.8 L1513.7,827.8 L1514.0,829.8 L1514.2,831.8 L1514.4,833.8 L1514.6,835.8 L1514.9,837.7 L1515.1,839.7 L1515.3,841.7 L1515.6,843.7 L1515.8,845.7 L1516.0,847.7 L1516.3,849.7 L1516.5,851.6 L1516.7,853.6 L1517.0,855.6 L1517.2,857.6 L1517.4,859.6 L1517.7,861.6 L1517.9,863.5 L1518.2,865.5 L1518.4,867.5 L1518.6,869.5 L1518.9,871.5 L1519.1,873.5 L1519.3,875.5 L1519.6,877.4 L1519.8,879.4 L1520.1,881.4 L1520.3,883.4 L1520.5,885.4 L1520.8,887.4 L1521.0,889.3 L1521.2,891.3 L1521.5,893.3 L1521.7,895.3 L1522.0,897.3 L1522.2,899.3 L1522.4,901.3 L1522.7,903.2 L1522.9,905.2 L1523.1,907.2 L1523.4,909.2 L1523.6,911.2 L1523.9,913.2 L1524.1,915.1 L1524.3,917.1 L1524.6,919.1 L1524.8,921.1 L1525.0,923.1 L1525.3,925.1 L1525.5,927.1 L1525.7,929.0 L1526.0,931.0 L1526.2,933.0 L1526.4,935.0 L1526.7,937.0 L1526.9,939.0 L1527.1,941.0 L1527.4,943.0 L1527.6,944.9 L1527.8,946.9 L1528.0,948.9 L1528.3,950.9 L1528.5,952.9 L1528.7,954.9 L1529.0,956.9 L1529.2,958.9 L1529.4,960.8 L1529.6,962.8 L1529.9,964.8 L1530.1,966.8 L1530.3,968.8 L1530.5,970.8 L1530.8,972.8 L1531.0,974.8 L1531.2,976.7 L1531.4,978.7 L1531.6,980.7 L1531.9,982.7 L1532.1,984.7 L1532.3,986.7 L1532.5,988.7 L1532.8,990.7 L1533.0,992.6 L1533.2,994.6 L1533.4,996.6 L1533.7,998.6 L1533.9,1000.6 L1534.1,1002.6 L1534.3,1004.6 L1534.6,1006.6 L1534.8,1008.6 L1535.0,1010.5 L1535.2,1012.5 L1535.5,1014.5 L1535.7,1016.5 L1535.9,1018.5 L1536.1,1020.5 L1536.4,1022.5 L1536.6,1024.5 L1536.8,1026.4 L1537.1,1028.4 L1537.3,1030.4 L1537.5,1032.4 L1537.8,1034.4 L1538.0,1036.4 L1538.2,1038.4 L1538.5,1040.3 L1538.7,1042.3 L1538.9,1044.3 L1539.2,1046.3 L1539.4,1048.3 L1539.7,1050.3 L1539.9,1052.3 L1540.2,1054.2 L1540.4,1056.2 L1540.6,1058.2 L1540.9,1060.2 L1541.1,1062.2 L1541.4,1064.2 L1541.6,1066.1 L1541.9,1068.1 L1542.1,1070.1 L1542.4,1072.1 L1542.6,1074.1 L1542.9,1076.1 L1543.2,1078.0 L1543.4,1080.0 L1543.7,1082.0 L1543.9,1084.0 L1544.2,1086.0 L1544.5,1087.9 L1544.7,1089.9 L1545.0,1091.9 L1545.3,1093.9 L1545.5,1095.9 L1545.8,1097.8 L1546.1,1099.8 L1546.4,1101.8 L1546.6,1103.8 L1546.9,1105.8 L1547.2,1107.7 L1547.5,1109.7 L1547.7,1111.7 L1548.0,1113.7 L1548.3,1115.7 L1548.6,1117.6 L1548.9,1119.6 L1549.2,1121.6 L1549.4,1123.6 L1549.7,1125.5 L1550.0,1127.5 L1550.3,1129.5 L1550.6,1131.5 L1550.9,1133.4 L1551.2,1135.4 L1551.5,1137.4 L1551.8,1139.4 L1552.1,1141.3 L1552.4,1143.3 L1552.7,1145.3 L1553.0,1147.3 L1553.3,1149.2 L1553.6,1151.2 L1553.9,1153.2 L1554.2,1155.2 L1554.6,1157.1 L1554.9,1159.1 L1555.2,1161.1 L1555.5,1163.0 L1555.8,1165.0 L1556.1,1167.0 L1556.4,1169.0 L1556.8,1170.9 L1557.1,1172.9 L1557.4,1174.9 L1557.7,1176.8 L1558.1,1178.8 L1558.4,1180.8 L1558.7,1182.8 L1559.1,1184.7 L1559.4,1186.7 L1559.7,1188.7 L1560.1,1190.6 L1560.4,1192.6 L1560.7,1194.6 L1561.1,1196.5 L1561.4,1198.5 L1561.8,1200.5 L1562.1,1202.4 L1562.4,1204.4 L1562.8,1206.4 L1563.1,1208.3 L1563.5,1210.3 L1563.8,1212.3 L1564.2,1214.2 L1564.6,1216.2 L1564.9,1218.2 L1565.3,1220.1 L1565.6,1222.1 L1566.0,1224.1 L1566.4,1226.0 L1566.7,1228.0 L1567.1,1230.0 L1567.5,1231.9 L1567.8,1233.9 L1568.2,1235.9 L1568.6,1237.8 L1568.9,1239.8 L1569.3,1241.8 L1569.7,1243.7 L1570.1,1245.7 L1570.4,1247.7 L1570.8,1249.6 L1571.2,1251.6 L1571.6,1253.5 L1572.0,1255.5 L1572.4,1257.5 L1572.8,1259.4 L1573.1,1261.4 L1573.5,1263.4 L1573.9,1265.3 L1574.3,1267.3 L1574.7,1269.2 L1575.1,1271.2 L1575.5,1273.2 L1575.9,1275.1 L1576.3,1277.1 L1576.7,1279.0 L1577.1,1281.0 L1577.6,1283.0 L1578.0,1284.9 L1578.4,1286.9 L1578.8,1288.8 L1579.2,1290.8 L1579.6,1292.8 L1580.0,1294.7 L1580.5,1296.7 L1580.9,1298.6 L1581.3,1300.6 L1581.7,1302.6 L1582.2,1304.5 L1582.6,1306.5 L1583.0,1308.4 L1583.5,1310.4 L1583.9,1312.3 L1584.3,1314.3 L1584.8,1316.2 L1585.2,1318.2 L1585.7,1320.2 L1586.1,1322.1 L1586.6,1324.1 L1587.0,1326.0 L1587.5,1328.0 L1587.9,1329.9 L1588.4,1331.9 L1588.9,1333.8 L1589.3,1335.8 L1589.8,1337.7 L1590.3,1339.7 L1590.8,1341.6 L1591.3,1343.5 L1591.7,1345.5 L1592.2,1347.4 L1592.7,1349.4 L1593.2,1351.3 L1593.8,1353.2 L1594.3,1355.2 L1594.8,1357.1 L1595.3,1359.0 L1595.8,1361.0 L1596.4,1362.9 L1596.9,1364.8 L1597.5,1366.7 L1598.0,1368.6 L1598.6,1370.6 L1599.1,1372.5 L1599.7,1374.4 L1600.3,1376.3 L1600.8,1378.2 L1601.4,1380.1 L1602.0,1382.0 L1602.6,1383.9 L1603.2,1385.8 L1603.8,1387.7 L1604.5,1389.6 L1605.1,1391.5 L1605.7,1393.4 L1606.4,1395.3 L1607.0,1397.2 L1607.7,1399.1 L1608.3,1400.9 L1609.0,1402.8 L1609.7,1404.7 L1610.4,1406.6 L1611.1,1408.4 L1611.8,1410.3 L1612.5,1412.2 L1613.2,1414.0 L1613.9,1415.9 L1614.7,1417.7 L1615.4,1419.6 L1616.2,1421.4 L1616.9,1423.2 L1617.7,1425.1 L1618.5,1426.9 L1619.3,1428.7 L1620.1,1430.6 L1620.9,1432.4 L1621.7,1434.2 L1622.5,1436.0 L1623.4,1437.8 L1624.2,1439.6 L1625.0,1441.4 L1625.9,1443.2 L1626.8,1445.0 L1627.6,1446.8 L1628.5,1448.6 L1629.4,1450.4 L1630.3,1452.2 L1631.2,1454.0 L1632.1,1455.8 L1633.0,1457.5 L1634.0,1459.3 L1634.9,1461.1 L1635.8,1462.8 L1636.8,1464.6 L1637.7,1466.4 L1638.7,1468.1 L1639.6,1469.9 L1640.6,1471.6 L1641.6,1473.4 L1642.6,1475.1 L1643.6,1476.9 L1644.5,1478.6 L1645.5,1480.3 L1646.6,1482.1 L1647.6,1483.8 L1648.6,1485.5 L1649.6,1487.2 L1650.6,1489.0 L1651.7,1490.7 L1652.7,1492.4 L1653.7,1494.1 L1654.8,1495.8 L1655.8,1497.5 L1656.9,1499.2 L1657.9,1500.9 L1659.0,1502.6 L1660.1,1504.3 L1661.2,1506.0 L1662.2,1507.7 L1663.3,1509.4 L1664.4,1511.1 L1665.5,1512.7 L1666.6,1514.4 L1667.7,1516.1 L1668.8,1517.8 L1669.9,1519.4 L1671.0,1521.1 L1672.1,1522.8 L1673.2,1524.4 L1674.3,1526.1 L1675.4,1527.7 L1676.6,1529.4 L1677.7,1531.1 L1678.8,1532.7 L1679.9,1534.4 L1681.1,1536.0 L1682.2,1537.6 L1683.4,1539.3 L1684.5,1540.9 L1685.6,1542.5 L1686.8,1544.2 L1687.9,1545.8 L1689.1,1547.4 L1690.3,1549.1 L1691.4,1550.7 L1692.6,1552.3 L1693.8,1553.9 L1694.9,1555.5 L1696.1,1557.1 L1697.3,1558.8 L1698.5,1560.4 L1699.7,1562.0 L1700.9,1563.6 L1702.1,1565.2 L1703.3,1566.8 L1704.5,1568.4 L1705.7,1569.9 L1706.9,1571.5 L1708.1,1573.1 L1709.3,1574.7 L1710.5,1576.3 L1711.7,1577.9 L1713.0,1579.4 L1714.2,1581.0 L1715.4,1582.6 L1716.7,1584.2 L1717.9,1585.7 L1719.2,1587.3 L1720.4,1588.8 L1721.7,1590.4 L1722.9,1592.0 L1724.2,1593.5 L1725.4,1595.1 L1726.7,1596.6 L1728.0,1598.2 L1729.3,1599.7 L1730.5,1601.2 L1731.8,1602.8 L1733.1,1604.3 L1734.4,1605.8 L1735.7,1607.4 L1737.0,1608.9 L1738.3,1610.4 L1739.6,1611.9 L1740.9,1613.5 L1742.2,1615.0 L1743.5,1616.5 L1744.9,1618.0 L1746.2,1619.5 L1747.5,1621.0 L1748.9,1622.4 L1750.2,1623.9 L1751.6,1625.4 L1753.0,1626.8 L1754.3,1628.3 L1755.7,1629.8 L1757.1,1631.2 L1758.5,1632.6 L1759.9,1634.0 L1761.3,1635.5 L1762.7,1636.9 L1764.2,1638.3 L1765.6,1639.6 L1767.0,1641.0 L1768.5,1642.4 L1769.9,1643.7 L1771.4,1645.1 L1772.9,1646.4 L1774.4,1647.7 L1775.9,1649.0 L1777.4,1650.3 L1778.9,1651.6 L1780.4,1652.9 L1782.0,1654.2 L1783.5,1655.4 L1785.1,1656.6 L1786.6,1657.8 L1788.2,1659.0 L1789.8,1660.2 L1791.4,1661.4 L1793.0,1662.6 L1794.7,1663.7 L1796.3,1664.8 L1798.0,1665.9 L1799.6,1667.0 L1801.3,1668.1 L1803.0,1669.2 L1804.7,1670.2 L1806.4,1671.2 L1808.2,1672.2 L1809.9,1673.2 L1811.7,1674.2 L1813.4,1675.1 L1815.2,1676.1 L1817.0,1677.0 L1818.8,1677.9 L1820.6,1678.7 L1822.4,1679.6 L1824.3,1680.4 L1826.1,1681.3 L1828.0,1682.0 L1829.8,1682.8 L1831.7,1683.6 L1833.6,1684.3 L1835.5,1685.0 L1837.3,1685.7 L1839.2,1686.4 L1841.2,1687.0 L1843.1,1687.6 L1845.0,1688.2 L1846.9,1688.8 L1848.8,1689.4 L1850.8,1689.9 L1852.7,1690.4 L1854.6,1690.9 L1856.6,1691.4 L1858.5,1691.8 L1860.5,1692.2 L1862.5,1692.6 L1864.4,1693.0 L1866.4,1693.4 L1868.3,1693.7 L1870.3,1694.0 L1872.3,1694.3 L1874.2,1694.5 L1876.2,1694.8 L1878.2,1695.0 L1880.2,1695.2 L1882.1,1695.4 L1884.1,1695.6 L1886.1,1695.8 L1888.1,1695.9 L1890.1,1696.1 L1892.1,1696.2 L1894.1,1696.3 L1896.0,1696.4 L1898.0,1696.5 L1900.0,1696.6 L1902.0,1696.7 L1904.0,1696.8 L1906.0,1696.8 L1908.0,1696.9 L1910.0,1697.0 L1912.0,1697.0 L1914.0,1697.1 L1916.0,1697.1 L1918.0,1697.2 L1920.0,1697.2 L1922.0,1697.2 L1924.0,1697.3 L1926.0,1697.3 L1928.0,1697.4 L1930.0,1697.4 L1932.0,1697.4 L1934.0,1697.4 L1936.0,1697.5 L1938.0,1697.5 L1940.0,1697.5 L1942.0,1697.5 L1944.0,1697.5 L1946.0,1697.6 L1948.0,1697.6 L1950.0,1697.6 L1952.0,1697.6 L1954.0,1697.6 L1956.0,1697.6 L1958.0,1697.6 L1960.0,1697.6 L1962.0,1697.6 L1964.0,1697.6 L1966.0,1697.6 L1968.0,1697.6 L1970.0,1697.6 L1972.0,1697.6 L1974.0,1697.6 L1976.0,1697.6 L1978.0,1697.6 L1980.0,1697.6 L1982.0,1697.6 L1984.0,1697.6 L1986.0,1697.6 L1988.0,1697.6 L1990.0,1697.6 L1992.0,1697.6 L1994.0,1697.6 L1996.0,1697.6 L1998.0,1697.6 L2000.0,1697.6 L2002.0,1697.6 L2004.0,1697.6 L2006.0,1697.6 L2008.0,1697.6 L2010.0,1697.6 L2012.0,1697.6 L2014.0,1697.6" stroke="#f00" stroke-width="10" fill="none" stroke-linejoin="round" stroke-linecap="butt"/>
<path d="M329.0,1696.5 L331.0,1696.5 L333.0,1696.6 L335.0,1696.6 L337.0,1696.6 L339.0,1696.6 L341.0,1696.6 L343.0,1696.7 L345.0,1696.7 L347.0,1696.7 L349.0,1696.7 L351.0,1696.7 L353.0,1696.7 L355.0,1696.7 L357.0,1696.7 L359.0,1696.7 L361.0,1696.7 L363.0,1696.7 L365.0,1696.7 L367.0,1696.6 L369.0,1696.6 L371.0,1696.6 L373.0,1696.6 L374.9,1696.6 L376.9,1696.6 L378.9,1696.6 L380.9,1696.5 L382.9,1696.5 L384.9,1696.5 L386.9,1696.5 L388.9,1696.5 L390.9,1696.5 L392.9,1696.4 L394.9,1696.4 L396.9,1696.4 L398.9,1696.4 L400.9,1696.4 L402.9,1696.4 L404.9,1696.3 L406.9,1696.3 L408.9,1696.3 L410.9,1696.3 L412.9,1696.3 L414.9,1696.3 L416.9,1696.3 L418.9,1696.3 L420.9,1696.3 L422.8,1696.3 L424.8,1696.3 L426.8,1696.3 L428.8,1696.3 L430.8,1696.3 L432.8,1696.3 L434.8,1696.3 L436.8,1696.3 L438.8,1696.3 L440.8,1696.4 L442.8,1696.4 L444.8,1696.4 L446.8,1696.4 L448.8,1696.5 L450.8,1696.5 L452.8,1696.5 L454.8,1696.6 L456.8,1696.6 L458.8,1696.7 L460.8,1696.7 L462.8,1696.8 L464.9,1696.8 L466.9,1696.9 L468.9,1696.9 L470.9,1696.9 L472.9,1697.0 L474.9,1697.0 L476.9,1697.0 L478.8,1697.0 L480.8,1697.0 L482.8,1697.0 L484.8,1696.9 L486.8,1696.9 L488.8,1696.8 L490.8,1696.7 L492.8,1696.6 L494.8,1696.5 L496.8,1696.4 L498.7,1696.2 L500.7,1696.0 L502.7,1695.8 L504.7,1695.6 L506.7,1695.4 L508.6,1695.1 L510.6,1694.8 L512.6,1694.5 L514.5,1694.1 L516.4,1693.6 L518.3,1693.0 L520.1,1692.4 L521.9,1691.5 L523.6,1690.5 L525.3,1689.4 L526.8,1688.0 L528.2,1686.5 L529.5,1685.0 L530.7,1683.3 L531.7,1681.6 L532.6,1679.9 L533.5,1678.1 L534.2,1676.2 L534.9,1674.4 L535.5,1672.5 L536.0,1670.5 L536.5,1668.6 L537.0,1666.6 L537.4,1664.7 L537.9,1662.7 L538.3,1660.7 L538.7,1658.8 L539.1,1656.8 L539.5,1654.8 L539.8,1652.9 L540.2,1650.9 L540.5,1648.9 L540.9,1646.9 L541.2,1645.0 L541.5,1643.0 L541.8,1641.0 L542.1,1639.1 L542.4,1637.1 L542.7,1635.1 L543.0,1633.1 L543.2,1631.1 L543.5,1629.2 L543.7,1627.2 L544.0,1625.2 L544.2,1623.2 L544.4,1621.2 L544.6,1619.3 L544.8,1617.3 L545.0,1615.3 L545.2,1613.3 L545.4,1611.3 L545.5,1609.3 L545.7,1607.4 L545.9,1605.4 L546.0,1603.4 L546.2,1601.4 L546.3,1599.4 L546.5,1597.4 L546.6,1595.4 L546.7,1593.4 L546.8,1591.4 L546.9,1589.4 L547.0,1587.5 L547.2,1585.5 L547.3,1583.5 L547.3,1581.5 L547.4,1579.5 L547.5,1577.5 L547.6,1575.5 L547.7,1573.5 L547.8,1571.5 L547.8,1569.5 L547.9,1567.5 L548.0,1565.5 L548.0,1563.5 L548.1,1561.5 L548.2,1559.5 L548.2,1557.5 L548.3,1555.5 L548.3,1553.5 L548.4,1551.5 L548.4,1549.5 L548.5,1547.5 L548.6,1545.5 L548.6,1543.5 L548.7,1541.5 L548.7,1539.5 L548.8,1537.5 L548.8,1535.5 L548.9,1533.5 L548.9,1531.5 L549.0,1529.5 L549.1,1527.5 L549.2,1525.5 L549.2,1523.5 L549.3,1521.5 L549.4,1519.5 L549.5,1517.5 L549.6,1515.5 L549.7,1513.5 L549.8,1511.5 L549.9,1509.5 L550.0,1507.5 L550.1,1505.5 L550.3,1503.5 L550.4,1501.5 L550.5,1499.6 L550.7,1497.6 L550.9,1495.6 L551.0,1493.6 L551.2,1491.6 L551.4,1489.6 L551.6,1487.6 L551.8,1485.7 L552.0,1483.7 L552.3,1481.7 L552.5,1479.7 L552.8,1477.8 L553.1,1475.8 L553.3,1473.8 L553.6,1471.9 L553.9,1469.9 L554.3,1467.9 L554.6,1466.0 L554.9,1464.0 L555.3,1462.1 L555.7,1460.1 L556.1,1458.2 L556.5,1456.2 L556.9,1454.3 L557.3,1452.3 L557.8,1450.4 L558.3,1448.4 L558.8,1446.5 L559.3,1448.4 L559.8,1450.4 L560.2,1452.3 L560.6,1454.3 L561.0,1456.3 L561.4,1458.2 L561.8,1460.2 L562.1,1462.2 L562.4,1464.1 L562.7,1466.1 L562.9,1468.1 L563.2,1470.0 L563.4,1472.0 L563.6,1474.0 L563.8,1476.0 L564.0,1478.0 L564.2,1480.0 L564.4,1481.9 L564.5,1483.9 L564.7,1485.9 L564.8,1487.9 L564.9,1489.9 L565.1,1491.9 L565.2,1493.9 L565.3,1495.9 L565.4,1497.9 L565.5,1499.9 L565.6,1501.9 L565.7,1503.9 L565.8,1505.9 L565.9,1507.9 L565.9,1509.9 L566.0,1511.9 L566.1,1513.9 L566.3,1515.9 L566.4,1517.9 L566.5,1519.9 L566.6,1521.9 L566.7,1523.9 L566.8,1525.9 L567.0,1527.9 L567.1,1529.9 L567.2,1531.9 L567.4,1533.9 L567.5,1535.9 L567.7,1537.9 L567.8,1539.9 L568.0,1541.8 L568.1,1543.8 L568.3,1545.8 L568.5,1547.8 L568.6,1549.8 L568.8,1551.8 L569.0,1553.8 L569.2,1555.8 L569.3,1557.8 L569.5,1559.8 L569.7,1561.8 L569.9,1563.8 L570.1,1565.8 L570.3,1567.7 L570.5,1569.7 L570.7,1571.7 L570.9,1573.7 L571.1,1575.7 L571.3,1577.7 L571.5,1579.7 L571.7,1581.7 L571.9,1583.7 L572.1,1585.6 L572.3,1587.6 L572.5,1589.6 L572.7,1591.6 L573.0,1593.6 L573.2,1595.6 L573.4,1597.6 L573.6,1599.5 L573.9,1601.5 L574.1,1603.5 L574.4,1605.5 L574.6,1607.5 L574.9,1609.5 L575.1,1611.4 L575.4,1613.4 L575.6,1615.4 L575.9,1617.4 L576.2,1619.4 L576.5,1621.3 L576.8,1623.3 L577.1,1625.3 L577.4,1627.3 L577.7,1629.2 L578.1,1631.2 L578.4,1633.2 L578.7,1635.1 L579.1,1637.1 L579.5,1639.1 L579.8,1641.0 L580.2,1643.0 L580.6,1645.0 L581.0,1646.9 L581.4,1648.9 L581.9,1650.9 L582.3,1652.8 L582.8,1654.8 L583.3,1656.7 L583.8,1658.6 L584.3,1660.6 L584.9,1662.5 L585.6,1664.4 L586.3,1666.3 L587.0,1668.1 L587.8,1669.9 L588.7,1671.8 L589.6,1673.5 L590.6,1675.3 L591.7,1677.0 L592.9,1678.7 L594.2,1680.2 L595.5,1681.7 L596.9,1683.0 L598.4,1684.2 L600.0,1685.2 L601.7,1686.0 L603.4,1686.5 L605.2,1686.9 L607.1,1687.0 L609.1,1686.9 L611.1,1686.6 L613.0,1686.1 L615.0,1685.5 L617.0,1684.8 L618.9,1683.9 L620.8,1683.0 L622.6,1682.0 L624.3,1680.9 L625.9,1679.7 L627.4,1678.5 L628.9,1677.3 L630.3,1676.0 L631.6,1674.7 L633.0,1673.2 L634.3,1671.7 L635.7,1670.2 L637.0,1668.6 L638.4,1666.9 L639.9,1665.3 L641.4,1663.8 L642.9,1662.3 L644.5,1661.0 L646.2,1659.9 L647.9,1659.0 L649.7,1658.3 L651.6,1657.8 L653.5,1657.6 L655.3,1657.6 L657.1,1657.9 L658.8,1658.5 L660.5,1659.3 L661.9,1660.4 L663.3,1661.8 L664.6,1663.3 L665.9,1664.9 L667.1,1666.7 L668.3,1668.4 L669.5,1670.2 L670.8,1672.0 L672.0,1673.7 L673.3,1675.4 L674.6,1677.0 L676.0,1678.6 L677.4,1680.1 L678.9,1681.5 L680.4,1682.8 L681.9,1684.0 L683.5,1685.0 L685.2,1685.9 L686.9,1686.7 L688.7,1687.4 L690.5,1687.9 L692.4,1688.3 L694.2,1688.6 L696.2,1688.7 L698.1,1688.8 L700.0,1688.7 L702.0,1688.6 L704.0,1688.3 L705.9,1688.0 L707.9,1687.5 L709.9,1687.0 L711.8,1686.3 L713.7,1685.6 L715.6,1684.9 L717.5,1684.0 L719.3,1683.1 L721.1,1682.1 L722.9,1681.0 L724.5,1679.9 L726.2,1678.7 L727.8,1677.4 L729.3,1676.2 L730.7,1674.8 L732.1,1673.4 L733.4,1672.0 L734.7,1670.6 L735.9,1669.1 L737.1,1667.5 L738.3,1666.0 L739.4,1664.4 L740.6,1662.8 L741.6,1661.1 L742.7,1659.5 L743.8,1657.8 L744.8,1656.1 L745.9,1654.4 L746.9,1652.7 L748.0,1650.9 L749.1,1649.2 L750.1,1647.4 L751.3,1645.7 L752.4,1644.0 L753.6,1642.2 L754.8,1640.5 L756.0,1638.8 L757.3,1637.1 L758.6,1635.4 L760.0,1633.8 L761.4,1632.3 L762.9,1630.9 L764.5,1629.8 L766.1,1628.8 L767.8,1628.2 L769.5,1627.8 L771.2,1627.6 L773.0,1627.8 L774.7,1628.3 L776.3,1629.0 L777.9,1630.2 L779.4,1631.5 L780.9,1633.1 L782.3,1634.9 L783.7,1636.7 L785.1,1638.5 L786.5,1640.2 L787.9,1641.7 L789.3,1643.1 L790.8,1644.1 L792.3,1644.7 L793.8,1644.9 L795.4,1644.7 L797.0,1644.0 L798.6,1642.9 L800.1,1641.6 L801.5,1640.1 L802.8,1638.4 L804.0,1636.7 L805.0,1634.9 L805.9,1633.1 L806.7,1631.2 L807.4,1629.3 L808.1,1627.4 L808.7,1625.5 L809.3,1623.5 L810.0,1621.6 L810.6,1619.7 L811.2,1617.8 L811.8,1615.9 L812.5,1614.0 L813.2,1612.1 L814.0,1610.3 L814.8,1608.5 L815.7,1606.8 L816.6,1605.1 L817.6,1603.4 L818.7,1601.8 L819.9,1600.2 L821.2,1598.7 L822.6,1597.2 L824.1,1595.8 L825.7,1594.5 L827.5,1593.3 L829.2,1592.3 L831.1,1591.4 L833.0,1590.9 L834.8,1590.6 L836.6,1590.7 L838.4,1591.2 L840.1,1592.0 L841.7,1593.0 L843.4,1594.3 L845.0,1595.7 L846.5,1597.1 L848.1,1598.6 L849.6,1600.1 L851.1,1601.6 L852.6,1603.0 L854.1,1604.3 L855.6,1605.7 L857.0,1607.0 L858.4,1608.3 L859.8,1609.7 L861.2,1611.0 L862.5,1612.4 L863.9,1613.8 L865.1,1615.2 L866.4,1616.7 L867.6,1618.3 L868.7,1619.9 L869.9,1621.6 L871.0,1623.3 L872.1,1625.0 L873.1,1626.8 L874.2,1628.5 L875.2,1630.4 L876.3,1632.2 L877.3,1634.0 L878.3,1635.8 L879.4,1637.6 L880.4,1639.4 L881.5,1641.2 L882.6,1642.9 L883.7,1644.6 L884.8,1646.3 L886.0,1647.9 L887.2,1649.5 L888.5,1651.0 L889.8,1652.4 L891.1,1653.8 L892.5,1655.1 L894.0,1656.3 L895.5,1657.4 L897.1,1658.4 L898.7,1659.3 L900.4,1660.1 L902.2,1660.9 L904.0,1661.5 L905.8,1662.1 L907.7,1662.6 L909.7,1663.1 L911.6,1663.4 L913.6,1663.8 L915.6,1664.1 L917.6,1664.3 L919.6,1664.5 L921.7,1664.7 L923.7,1664.9 L925.7,1665.1 L927.7,1665.2 L929.8,1665.4 L931.8,1665.5 L933.8,1665.6 L935.8,1665.7 L937.8,1665.8 L939.8,1665.9 L941.8,1666.1 L943.8,1666.2 L945.8,1666.3 L947.8,1666.4 L949.8,1666.5 L951.8,1666.7 L953.7,1666.8 L955.7,1667.0 L957.7,1667.2 L959.7,1667.4 L961.7,1667.6 L963.6,1667.8 L965.6,1668.0 L967.6,1668.3 L969.5,1668.6 L971.5,1668.8 L973.5,1669.1 L975.5,1669.4 L977.4,1669.7 L979.4,1670.0 L981.4,1670.3 L983.3,1670.7 L985.3,1671.0 L987.3,1671.3 L989.3,1671.6 L991.2,1671.9 L993.2,1672.1 L995.2,1672.4 L997.2,1672.7 L999.2,1672.9 L1001.1,1673.2 L1003.1,1673.4 L1005.1,1673.6 L1007.1,1673.8 L1009.1,1673.9 L1011.1,1674.1 L1013.2,1674.2 L1015.2,1674.3 L1017.2,1674.3 L1019.2,1674.4 L1021.2,1674.4 L1023.3,1674.3 L1025.3,1674.3 L1027.4,1674.2 L1029.4,1674.0 L1031.4,1673.8 L1033.4,1673.6 L1035.4,1673.3 L1037.4,1672.9 L1039.4,1672.5 L1041.3,1672.0 L1043.2,1671.4 L1045.0,1670.8 L1046.8,1670.1 L1048.5,1669.3 L1050.2,1668.4 L1051.8,1667.4 L1053.4,1666.3 L1054.9,1665.1 L1056.3,1663.9 L1057.6,1662.5 L1058.9,1661.1 L1060.2,1659.5 L1061.3,1658.0 L1062.5,1656.3 L1063.5,1654.6 L1064.6,1652.9 L1065.5,1651.1 L1066.5,1649.3 L1067.4,1647.4 L1068.2,1645.6 L1069.0,1643.7 L1069.8,1641.8 L1070.6,1639.8 L1071.3,1637.9 L1072.0,1636.0 L1072.7,1634.1 L1073.3,1632.2 L1073.9,1630.2 L1074.5,1628.3 L1075.1,1626.4 L1075.6,1624.4 L1076.2,1622.5 L1076.7,1620.5 L1077.1,1618.6 L1077.6,1616.6 L1078.1,1614.7 L1078.5,1612.7 L1078.9,1610.8 L1079.3,1608.8 L1079.7,1606.9 L1080.1,1604.9 L1080.4,1602.9 L1080.8,1601.0 L1081.1,1599.0 L1081.4,1597.0 L1081.8,1595.1 L1082.1,1593.1 L1082.4,1591.1 L1082.7,1589.2 L1083.0,1587.2 L1083.3,1585.2 L1083.6,1583.3 L1083.8,1581.3 L1084.1,1579.3 L1084.4,1577.3 L1084.7,1575.4 L1085.0,1573.4 L1085.3,1571.4 L1085.5,1569.4 L1085.8,1567.5 L1086.1,1565.5 L1086.3,1563.5 L1086.6,1561.5 L1086.9,1559.5 L1087.1,1557.6 L1087.4,1555.6 L1087.6,1553.6 L1087.9,1551.6 L1088.1,1549.7 L1088.4,1547.7 L1088.6,1545.7 L1088.9,1543.7 L1089.1,1541.7 L1089.4,1539.7 L1089.6,1537.8 L1089.8,1535.8 L1090.1,1533.8 L1090.3,1531.8 L1090.5,1529.8 L1090.8,1527.9 L1091.0,1525.9 L1091.2,1523.9 L1091.5,1521.9 L1091.7,1519.9 L1091.9,1517.9 L1092.1,1515.9 L1092.3,1514.0 L1092.5,1512.0 L1092.8,1510.0 L1093.0,1508.0 L1093.2,1506.0 L1093.4,1504.0 L1093.6,1502.0 L1093.8,1500.1 L1094.0,1498.1 L1094.2,1496.1 L1094.4,1494.1 L1094.6,1492.1 L1094.8,1490.1 L1095.0,1488.1 L1095.2,1486.1 L1095.3,1484.1 L1095.5,1482.2 L1095.7,1480.2 L1095.9,1478.2 L1096.1,1476.2 L1096.3,1474.2 L1096.4,1472.2 L1096.6,1470.2 L1096.8,1468.2 L1097.0,1466.2 L1097.1,1464.2 L1097.3,1462.2 L1097.5,1460.2 L1097.6,1458.3 L1097.8,1456.3 L1098.0,1454.3 L1098.1,1452.3 L1098.3,1450.3 L1098.5,1448.3 L1098.6,1446.3 L1098.8,1444.3 L1098.9,1442.3 L1099.1,1440.3 L1099.2,1438.3 L1099.4,1436.3 L1099.5,1434.3 L1099.7,1432.3 L1099.8,1430.3 L1100.0,1428.3 L1100.1,1426.4 L1100.3,1424.4 L1100.4,1422.4 L1100.5,1420.4 L1100.7,1418.4 L1100.8,1416.4 L1101.0,1414.4 L1101.1,1412.4 L1101.2,1410.4 L1101.4,1408.4 L1101.5,1406.4 L1101.6,1404.4 L1101.7,1402.4 L1101.9,1400.4 L1102.0,1398.4 L1102.1,1396.4 L1102.3,1394.4 L1102.4,1392.4 L1102.5,1390.4 L1102.6,1388.4 L1102.7,1386.4 L1102.9,1384.4 L1103.0,1382.4 L1103.1,1380.4 L1103.2,1378.4 L1103.3,1376.4 L1103.4,1374.4 L1103.6,1372.4 L1103.7,1370.4 L1103.8,1368.4 L1103.9,1366.4 L1104.0,1364.4 L1104.1,1362.4 L1104.2,1360.4 L1104.3,1358.4 L1104.4,1356.4 L1104.5,1354.4 L1104.6,1352.4 L1104.7,1350.5 L1104.8,1348.5 L1104.9,1346.5 L1105.0,1344.5 L1105.1,1342.5 L1105.2,1340.5 L1105.3,1338.5 L1105.4,1336.5 L1105.5,1334.5 L1105.6,1332.5 L1105.7,1330.5 L1105.8,1328.5 L1105.9,1326.5 L1106.0,1324.5 L1106.1,1322.5 L1106.2,1320.5 L1106.3,1318.5 L1106.4,1316.5 L1106.5,1314.5 L1106.5,1312.5 L1106.6,1310.5 L1106.7,1308.5 L1106.8,1306.5 L1106.9,1304.5 L1107.0,1302.5 L1107.1,1300.5 L1107.1,1298.5 L1107.2,1296.5 L1107.3,1294.5 L1107.4,1292.5 L1107.5,1290.5 L1107.6,1288.5 L1107.7,1286.5 L1107.7,1284.5 L1107.8,1282.5 L1107.9,1280.5 L1108.0,1278.5 L1108.1,1276.5 L1108.1,1274.5 L1108.2,1272.5 L1108.3,1270.5 L1108.4,1268.5 L1108.5,1266.5 L1108.5,1264.5 L1108.6,1262.5 L1108.7,1260.5 L1108.8,1258.5 L1108.8,1256.6 L1108.9,1254.6 L1109.0,1252.6 L1109.1,1250.6 L1109.2,1248.6 L1109.2,1246.6 L1109.3,1244.6 L1109.4,1242.6 L1109.5,1240.6 L1109.5,1238.6 L1109.6,1236.6 L1109.7,1234.6 L1109.8,1232.6 L1109.8,1230.6 L1109.9,1228.6 L1110.0,1226.6 L1110.1,1224.6 L1110.1,1222.6 L1110.2,1220.6 L1110.3,1218.6 L1110.4,1216.6 L1110.4,1214.6 L1110.5,1212.6 L1110.6,1210.6 L1110.7,1208.6 L1110.7,1206.6 L1110.8,1204.6 L1110.9,1202.6 L1111.0,1200.6 L1111.0,1198.6 L1111.1,1196.6 L1111.2,1194.6 L1111.3,1192.6 L1111.3,1190.7 L1111.4,1188.7 L1111.5,1186.7 L1111.6,1184.7 L1111.7,1182.7 L1111.7,1180.7 L1111.8,1178.7 L1111.9,1176.7 L1112.0,1174.7 L1112.0,1172.7 L1112.1,1170.7 L1112.2,1168.7 L1112.3,1166.7 L1112.4,1164.7 L1112.4,1162.7 L1112.5,1160.7 L1112.6,1158.7 L1112.7,1156.7 L1112.8,1154.7 L1112.8,1152.7 L1112.9,1150.7 L1113.0,1148.7 L1113.1,1146.7 L1113.2,1144.7 L1113.3,1142.7 L1113.3,1140.7 L1113.4,1138.7 L1113.5,1136.7 L1113.6,1134.7 L1113.7,1132.7 L1113.8,1130.7 L1113.8,1128.7 L1113.9,1126.7 L1114.0,1124.7 L1114.1,1122.7 L1114.2,1120.7 L1114.3,1118.7 L1114.3,1116.7 L1114.4,1114.7 L1114.5,1112.7 L1114.6,1110.7 L1114.7,1108.8 L1114.8,1106.8 L1114.9,1104.8 L1114.9,1102.8 L1115.0,1100.8 L1115.1,1098.8 L1115.2,1096.8 L1115.3,1094.8 L1115.4,1092.8 L1115.5,1090.8 L1115.5,1088.8 L1115.6,1086.8 L1115.7,1084.8 L1115.8,1082.8 L1115.9,1080.8 L1116.0,1078.8 L1116.1,1076.8 L1116.1,1074.8 L1116.2,1072.8 L1116.3,1070.8 L1116.4,1068.8 L1116.5,1066.8 L1116.6,1064.8 L1116.6,1062.8 L1116.7,1060.8 L1116.8,1058.8 L1116.9,1056.8 L1117.0,1054.8 L1117.1,1052.8 L1117.2,1050.8 L1117.2,1048.8 L1117.3,1046.8 L1117.4,1044.8 L1117.5,1042.8 L1117.6,1040.8 L1117.6,1038.8 L1117.7,1036.8 L1117.8,1034.8 L1117.9,1032.8 L1118.0,1030.8 L1118.1,1028.8 L1118.1,1026.8 L1118.2,1024.8 L1118.3,1022.8 L1118.4,1020.8 L1118.5,1018.8 L1118.5,1016.8 L1118.6,1014.8 L1118.7,1012.8 L1118.8,1010.8 L1118.8,1008.8 L1118.9,1006.8 L1119.0,1004.8 L1119.1,1002.8 L1119.2,1000.8 L1119.2,998.8 L1119.3,996.8 L1119.4,994.8 L1119.5,992.8 L1119.5,990.8 L1119.6,988.9 L1119.7,986.9 L1119.8,984.9 L1119.8,982.9 L1119.9,980.9 L1120.0,978.9 L1120.1,976.9 L1120.2,974.9 L1120.2,972.9 L1120.3,970.9 L1120.4,968.9 L1120.5,966.9 L1120.5,964.9 L1120.6,962.9 L1120.7,960.9 L1120.8,958.9 L1120.8,956.9 L1120.9,954.9 L1121.0,952.9 L1121.1,950.9 L1121.1,948.9 L1121.2,946.9 L1121.3,944.9 L1121.4,942.9 L1121.4,940.9 L1121.5,938.9 L1121.6,936.9 L1121.7,934.9 L1121.7,932.9 L1121.8,930.9 L1121.9,928.9 L1122.0,926.9 L1122.1,924.9 L1122.1,922.9 L1122.2,920.9 L1122.3,918.9 L1122.4,916.9 L1122.4,914.9 L1122.5,912.9 L1122.6,910.9 L1122.7,908.9 L1122.8,906.9 L1122.8,904.9 L1122.9,902.9 L1123.0,900.9 L1123.1,898.9 L1123.2,896.9 L1123.2,894.9 L1123.3,892.9 L1123.4,890.9 L1123.5,888.9 L1123.6,886.9 L1123.6,884.9 L1123.7,882.9 L1123.8,880.9 L1123.9,879.0 L1124.0,877.0 L1124.1,875.0 L1124.2,873.0 L1124.2,871.0 L1124.3,869.0 L1124.4,867.0 L1124.5,865.0 L1124.6,863.0 L1124.7,861.0 L1124.8,859.0 L1124.8,857.0 L1124.9,855.0 L1125.0,853.0 L1125.1,851.0 L1125.2,849.0 L1125.3,847.0 L1125.4,845.0 L1125.5,843.0 L1125.6,841.0 L1125.7,839.0 L1125.8,837.0 L1125.9,835.0 L1126.0,833.0 L1126.1,831.0 L1126.2,829.0 L1126.3,827.0 L1126.4,825.0 L1126.4,823.0 L1126.5,821.0 L1126.6,819.0 L1126.8,817.0 L1126.9,815.0 L1127.0,813.0 L1127.1,811.0 L1127.2,809.1 L1127.3,807.1 L1127.4,805.1 L1127.5,803.1 L1127.6,801.1 L1127.7,799.1 L1127.8,797.1 L1127.9,795.1 L1128.0,793.1 L1128.1,791.1 L1128.2,789.1 L1128.4,787.1 L1128.5,785.1 L1128.6,783.1 L1128.7,781.1 L1128.8,779.1 L1128.9,777.1 L1129.1,775.1 L1129.2,773.1 L1129.3,771.1 L1129.4,769.1 L1129.5,767.1 L1129.7,765.1 L1129.8,763.1 L1129.9,761.1 L1130.0,759.1 L1130.2,757.2 L1130.3,755.2 L1130.4,753.2 L1130.6,751.2 L1130.7,749.2 L1130.8,747.2 L1131.0,745.2 L1131.1,743.2 L1131.2,741.2 L1131.4,739.2 L1131.5,737.2 L1131.6,735.2 L1131.8,733.2 L1131.9,731.2 L1132.1,729.2 L1132.2,727.2 L1132.3,725.2 L1132.5,723.2 L1132.6,721.2 L1132.8,719.3 L1132.9,717.3 L1133.1,715.3 L1133.2,713.3 L1133.4,711.3 L1133.5,709.3 L1133.7,707.3 L1133.9,705.3 L1134.0,703.3 L1134.2,701.3 L1134.3,699.3 L1134.5,697.3 L1134.7,695.3 L1134.8,693.3 L1135.0,691.3 L1135.2,689.3 L1135.3,687.4 L1135.5,685.4 L1135.7,683.4 L1135.8,681.4 L1136.0,679.4 L1136.2,677.4 L1136.4,675.4 L1136.6,673.4 L1136.7,671.4 L1136.9,669.4 L1137.1,667.4 L1137.3,665.4 L1137.5,663.5 L1137.7,661.5 L1137.9,659.5 L1138.1,657.5 L1138.3,655.5 L1138.5,653.5 L1138.7,651.5 L1138.9,649.5 L1139.1,647.5 L1139.3,645.5 L1139.5,643.6 L1139.7,641.6 L1139.9,639.6 L1140.1,637.6 L1140.3,635.6 L1140.5,633.6 L1140.8,631.6 L1141.0,629.6 L1141.2,627.7 L1141.4,625.7 L1141.7,623.7 L1141.9,621.7 L1142.1,619.7 L1142.4,617.7 L1142.6,615.7 L1142.8,613.8 L1143.1,611.8 L1143.3,609.8 L1143.6,607.8 L1143.8,605.8 L1144.1,603.8 L1144.3,601.9 L1144.6,599.9 L1144.8,597.9 L1145.1,595.9 L1145.3,593.9 L1145.6,591.9 L1145.9,590.0 L1146.1,588.0 L1146.4,586.0 L1146.7,584.0 L1146.9,582.0 L1147.2,580.1 L1147.5,578.1 L1147.7,576.1 L1148.0,574.1 L1148.2,572.1 L1148.5,570.2 L1148.8,568.2 L1149.0,566.2 L1149.3,564.2 L1149.6,562.2 L1149.8,560.2 L1150.1,558.2 L1150.3,556.3 L1150.6,554.3 L1150.8,552.3 L1151.1,550.3 L1151.3,548.3 L1151.6,546.3 L1151.8,544.3 L1152.1,542.3 L1152.3,540.4 L1152.6,538.4 L1152.8,536.4 L1153.1,534.4 L1153.4,532.4 L1153.7,530.5 L1154.1,528.5 L1154.5,526.6 L1154.9,524.6 L1155.3,522.7 L1155.8,520.8 L1156.3,518.8 L1156.8,516.9 L1157.4,515.0 L1158.0,513.2 L1158.7,511.3 L1159.5,509.5 L1160.3,507.6 L1161.1,505.8 L1162.0,504.0 L1163.0,502.2 L1163.9,504.0 L1164.7,505.9 L1165.5,507.7 L1166.3,509.6 L1167.0,511.4 L1167.6,513.3 L1168.2,515.2 L1168.8,517.1 L1169.3,519.0 L1169.8,520.9 L1170.3,522.9 L1170.7,524.8 L1171.1,526.7 L1171.5,528.7 L1171.8,530.6 L1172.1,532.6 L1172.4,534.5 L1172.7,536.5 L1173.0,538.5 L1173.2,540.5 L1173.4,542.4 L1173.7,544.4 L1173.9,546.4 L1174.1,548.4 L1174.3,550.4 L1174.5,552.4 L1174.7,554.4 L1175.0,556.4 L1175.2,558.4 L1175.4,560.3 L1175.6,562.3 L1175.9,564.3 L1176.1,566.3 L1176.3,568.3 L1176.6,570.3 L1176.8,572.3 L1177.1,574.3 L1177.3,576.3 L1177.5,578.3 L1177.8,580.2 L1178.0,582.2 L1178.3,584.2 L1178.5,586.2 L1178.8,588.2 L1179.0,590.2 L1179.3,592.1 L1179.6,594.1 L1179.8,596.1 L1180.1,598.1 L1180.3,600.0 L1180.6,602.0 L1180.8,604.0 L1181.1,605.9 L1181.3,607.9 L1181.6,609.9 L1181.8,611.8 L1182.1,613.8 L1182.3,615.8 L1182.6,617.7 L1182.9,619.7 L1183.1,621.7 L1183.4,623.6 L1183.7,625.6 L1184.0,627.6 L1184.3,629.5 L1184.6,631.5 L1185.0,633.5 L1185.3,635.5 L1185.7,637.4 L1186.1,639.4 L1186.5,641.4 L1186.9,643.4 L1187.3,645.4 L1187.7,647.4 L1188.2,649.4 L1188.7,651.4 L1189.2,653.5 L1189.8,655.5 L1190.5,657.5 L1191.2,659.5 L1192.1,661.2 L1193.3,662.6 L1194.7,663.4 L1196.4,663.5 L1198.4,663.0 L1200.6,662.1 L1202.8,661.0 L1204.9,660.2 L1206.7,659.9 L1208.2,660.1 L1209.6,660.7 L1210.7,661.7 L1211.7,663.0 L1212.6,664.6 L1213.4,666.3 L1214.1,668.2 L1214.7,670.1 L1215.4,672.1 L1216.0,674.0 L1216.6,676.0 L1217.2,677.9 L1217.7,679.9 L1218.3,681.9 L1218.8,683.8 L1219.3,685.8 L1219.8,687.7 L1220.3,689.7 L1220.8,691.6 L1221.3,693.6 L1221.7,695.6 L1222.2,697.5 L1222.6,699.5 L1223.0,701.5 L1223.4,703.4 L1223.8,705.4 L1224.2,707.4 L1224.6,709.3 L1224.9,711.3 L1225.3,713.3 L1225.6,715.2 L1226.0,717.2 L1226.3,719.2 L1226.6,721.2 L1226.9,723.1 L1227.2,725.1 L1227.4,727.1 L1227.7,729.1 L1228.0,731.0 L1228.2,733.0 L1228.5,735.0 L1228.7,737.0 L1229.0,739.0 L1229.2,740.9 L1229.4,742.9 L1229.6,744.9 L1229.8,746.9 L1230.0,748.9 L1230.2,750.9 L1230.4,752.8 L1230.6,754.8 L1230.8,756.8 L1231.0,758.8 L1231.1,760.8 L1231.3,762.8 L1231.5,764.8 L1231.6,766.7 L1231.8,768.7 L1232.0,770.7 L1232.1,772.7 L1232.3,774.7 L1232.4,776.7 L1232.6,778.7 L1232.7,780.7 L1232.8,782.7 L1233.0,784.6 L1233.1,786.6 L1233.3,788.6 L1233.4,790.6 L1233.6,792.6 L1233.7,794.6 L1233.9,796.6 L1234.0,798.6 L1234.1,800.6 L1234.3,802.6 L1234.4,804.5 L1234.6,806.5 L1234.7,808.5 L1234.9,810.5 L1235.0,812.5 L1235.2,814.5 L1235.3,816.5 L1235.5,818.5 L1235.6,820.5 L1235.8,822.5 L1235.9,824.5 L1236.1,826.5 L1236.2,828.4 L1236.4,830.4 L1236.5,832.4 L1236.7,834.4 L1236.8,836.4 L1237.0,838.4 L1237.1,840.4 L1237.3,842.4 L1237.4,844.4 L1237.6,846.4 L1237.7,848.4 L1237.9,850.4 L1238.0,852.3 L1238.2,854.3 L1238.3,856.3 L1238.5,858.3 L1238.6,860.3 L1238.8,862.3 L1238.9,864.3 L1239.1,866.3 L1239.2,868.3 L1239.4,870.3 L1239.5,872.3 L1239.7,874.3 L1239.8,876.3 L1240.0,878.2 L1240.1,880.2 L1240.3,882.2 L1240.4,884.2 L1240.6,886.2 L1240.7,888.2 L1240.9,890.2 L1241.0,892.2 L1241.2,894.2 L1241.3,896.2 L1241.5,898.2 L1241.7,900.2 L1241.8,902.2 L1242.0,904.1 L1242.1,906.1 L1242.3,908.1 L1242.4,910.1 L1242.6,912.1 L1242.7,914.1 L1242.9,916.1 L1243.0,918.1 L1243.2,920.1 L1243.3,922.1 L1243.5,924.1 L1243.6,926.1 L1243.8,928.0 L1243.9,930.0 L1244.1,932.0 L1244.2,934.0 L1244.4,936.0 L1244.6,938.0 L1244.7,940.0 L1244.9,942.0 L1245.0,944.0 L1245.2,946.0 L1245.3,948.0 L1245.5,949.9 L1245.6,951.9 L1245.8,953.9 L1245.9,955.9 L1246.1,957.9 L1246.2,959.9 L1246.4,961.9 L1246.5,963.9 L1246.7,965.9 L1246.8,967.9 L1247.0,969.8 L1247.1,971.8 L1247.3,973.8 L1247.4,975.8 L1247.6,977.8 L1247.8,979.8 L1247.9,981.8 L1248.1,983.8 L1248.2,985.8 L1248.4,987.8 L1248.5,989.7 L1248.7,991.7 L1248.8,993.7 L1249.0,995.7 L1249.1,997.7 L1249.3,999.7 L1249.5,1001.7 L1249.6,1003.7 L1249.8,1005.7 L1249.9,1007.6 L1250.1,1009.6 L1250.2,1011.6 L1250.4,1013.6 L1250.6,1015.6 L1250.7,1017.6 L1250.9,1019.6 L1251.0,1021.6 L1251.2,1023.6 L1251.3,1025.5 L1251.5,1027.5 L1251.7,1029.5 L1251.8,1031.5 L1252.0,1033.5 L1252.1,1035.5 L1252.3,1037.5 L1252.5,1039.5 L1252.6,1041.4 L1252.8,1043.4 L1253.0,1045.4 L1253.1,1047.4 L1253.3,1049.4 L1253.5,1051.4 L1253.6,1053.4 L1253.8,1055.4 L1253.9,1057.4 L1254.1,1059.3 L1254.3,1061.3 L1254.4,1063.3 L1254.6,1065.3 L1254.8,1067.3 L1255.0,1069.3 L1255.1,1071.3 L1255.3,1073.3 L1255.5,1075.2 L1255.6,1077.2 L1255.8,1079.2 L1256.0,1081.2 L1256.1,1083.2 L1256.3,1085.2 L1256.5,1087.2 L1256.7,1089.2 L1256.8,1091.2 L1257.0,1093.1 L1257.2,1095.1 L1257.4,1097.1 L1257.5,1099.1 L1257.7,1101.1 L1257.9,1103.1 L1258.1,1105.1 L1258.3,1107.1 L1258.4,1109.0 L1258.6,1111.0 L1258.8,1113.0 L1259.0,1115.0 L1259.2,1117.0 L1259.4,1119.0 L1259.5,1121.0 L1259.7,1123.0 L1259.9,1124.9 L1260.1,1126.9 L1260.3,1128.9 L1260.5,1130.9 L1260.7,1132.9 L1260.9,1134.9 L1261.1,1136.9 L1261.2,1138.9 L1261.4,1140.9 L1261.6,1142.8 L1261.8,1144.8 L1262.0,1146.8 L1262.2,1148.8 L1262.4,1150.8 L1262.6,1152.8 L1262.8,1154.8 L1263.0,1156.8 L1263.2,1158.7 L1263.4,1160.7 L1263.6,1162.7 L1263.8,1164.7 L1264.0,1166.7 L1264.2,1168.7 L1264.4,1170.7 L1264.6,1172.7 L1264.8,1174.7 L1265.0,1176.6 L1265.3,1178.6 L1265.5,1180.6 L1265.7,1182.6 L1265.9,1184.6 L1266.1,1186.6 L1266.3,1188.6 L1266.5,1190.6 L1266.8,1192.6 L1267.0,1194.5 L1267.2,1196.5 L1267.4,1198.5 L1267.6,1200.5 L1267.9,1202.5 L1268.1,1204.5 L1268.3,1206.5 L1268.5,1208.5 L1268.8,1210.4 L1269.0,1212.4 L1269.2,1214.4 L1269.5,1216.4 L1269.7,1218.4 L1270.0,1220.4 L1270.2,1222.4 L1270.5,1224.3 L1270.7,1226.3 L1271.0,1228.3 L1271.2,1230.3 L1271.5,1232.3 L1271.8,1234.3 L1272.1,1236.2 L1272.3,1238.2 L1272.6,1240.2 L1272.9,1242.2 L1273.2,1244.1 L1273.5,1246.1 L1273.8,1248.1 L1274.1,1250.1 L1274.4,1252.0 L1274.8,1254.0 L1275.1,1256.0 L1275.4,1257.9 L1275.8,1259.9 L1276.1,1261.9 L1276.5,1263.8 L1276.8,1265.8 L1277.2,1267.7 L1277.6,1269.7 L1277.9,1271.7 L1278.3,1273.6 L1278.7,1275.6 L1279.1,1277.5 L1279.5,1279.5 L1279.9,1281.4 L1280.4,1283.4 L1280.8,1285.3 L1281.2,1287.2 L1281.7,1289.2 L1282.2,1291.1 L1282.6,1293.0 L1283.1,1295.0 L1283.6,1296.9 L1284.1,1298.8 L1284.6,1300.8 L1285.1,1302.7 L1285.6,1304.6 L1286.2,1306.5 L1286.7,1308.4 L1287.3,1310.3 L1287.8,1312.2 L1288.4,1314.2 L1289.0,1316.1 L1289.6,1318.0 L1290.2,1319.9 L1290.8,1321.8 L1291.4,1323.6 L1292.1,1325.5 L1292.7,1327.4 L1293.4,1329.3 L1294.1,1331.2 L1294.7,1333.1 L1295.4,1334.9 L1296.1,1336.8 L1296.9,1338.6 L1297.6,1340.5 L1298.3,1342.4 L1299.1,1344.2 L1299.9,1346.0 L1300.6,1347.9 L1301.4,1349.7 L1302.2,1351.5 L1303.0,1353.4 L1303.9,1355.2 L1304.7,1357.0 L1305.5,1358.8 L1306.4,1360.6 L1307.3,1362.4 L1308.2,1364.2 L1309.1,1366.0 L1310.0,1367.7 L1310.9,1369.5 L1311.8,1371.3 L1312.8,1373.0 L1313.7,1374.8 L1314.7,1376.5 L1315.7,1378.2 L1316.7,1380.0 L1317.7,1381.7 L1318.7,1383.4 L1319.8,1385.1 L1320.8,1386.8 L1321.9,1388.5 L1323.0,1390.2 L1324.1,1391.8 L1325.2,1393.5 L1326.3,1395.2 L1327.4,1396.8 L1328.6,1398.4 L1329.7,1400.1 L1330.9,1401.7 L1332.1,1403.3 L1333.3,1404.9 L1334.5,1406.5 L1335.8,1408.1 L1337.0,1409.7 L1338.3,1411.2 L1339.5,1412.8 L1341.5,1412.9 L1343.4,1412.9 L1345.4,1413.0 L1347.4,1413.0 L1349.4,1413.0 L1351.3,1413.1 L1353.3,1413.1 L1355.3,1413.2 L1357.2,1413.2 L1359.2,1413.2 L1361.2,1413.3 L1363.1,1413.3 L1365.1,1413.3 L1367.1,1413.3 L1369.1,1413.4 L1371.0,1413.4 L1373.0,1413.4 L1374.5,1414.7 L1376.0,1416.1 L1377.5,1417.4 L1379.0,1418.8 L1380.4,1420.1 L1381.9,1421.5 L1383.3,1422.9 L1384.7,1424.4 L1386.1,1425.8 L1387.5,1427.2 L1388.8,1428.7 L1390.2,1430.2 L1391.5,1431.6 L1392.8,1433.1 L1394.1,1434.6 L1395.4,1436.1 L1396.7,1437.7 L1397.9,1439.2 L1399.2,1440.8 L1400.4,1442.3 L1401.6,1443.9 L1402.8,1445.5 L1404.0,1447.0 L1405.2,1448.6 L1406.4,1450.2 L1407.5,1451.9 L1408.7,1453.5 L1409.8,1455.1 L1411.0,1456.7 L1412.1,1458.4 L1413.2,1460.0 L1414.3,1461.7 L1415.4,1463.4 L1416.5,1465.0 L1417.6,1466.7 L1418.7,1468.4 L1419.8,1470.1 L1420.9,1471.8 L1421.9,1473.5 L1423.0,1475.2 L1424.0,1476.9 L1425.1,1478.6 L1426.1,1480.4 L1427.2,1482.1 L1428.2,1483.8 L1429.3,1485.5 L1430.4,1487.2 L1431.5,1488.8 L1432.6,1490.5 L1433.8,1492.1 L1435.0,1493.7 L1436.2,1495.2 L1437.4,1496.8 L1438.7,1498.2 L1440.1,1499.7 L1441.4,1501.1 L1442.9,1502.4 L1444.3,1503.8 L1445.8,1505.0 L1447.3,1506.2 L1448.9,1507.4 L1450.5,1508.6 L1452.1,1509.6 L1453.8,1510.7 L1455.5,1511.7 L1457.2,1512.6 L1458.9,1513.5 L1460.7,1514.3 L1462.5,1515.2 L1464.4,1515.9 L1466.2,1516.7 L1468.1,1517.4 L1470.0,1518.1 L1471.9,1518.7 L1473.8,1519.4 L1475.7,1520.1 L1477.6,1520.7 L1479.5,1521.4 L1481.4,1522.0 L1483.3,1522.7 L1485.2,1523.4 L1487.0,1524.1 L1488.9,1524.8 L1490.8,1525.5 L1492.6,1526.2 L1494.5,1527.0 L1496.3,1527.7 L1498.2,1528.4 L1500.0,1529.2 L1501.9,1529.9 L1503.7,1530.6 L1505.6,1531.4 L1507.5,1532.1 L1509.3,1532.9 L1511.2,1533.6 L1513.0,1534.3 L1514.9,1535.1 L1516.7,1535.8 L1518.6,1536.5 L1520.5,1537.2 L1522.3,1537.9 L1524.2,1538.7 L1526.0,1539.4 L1527.9,1540.1 L1529.8,1540.8 L1531.6,1541.5 L1533.5,1542.2 L1535.4,1542.9 L1537.3,1543.6 L1539.1,1544.2 L1541.0,1544.9 L1542.9,1545.6 L1544.8,1546.2 L1546.7,1546.9 L1548.5,1547.5 L1550.4,1548.2 L1552.3,1548.8 L1554.2,1549.4 L1556.1,1550.0 L1558.0,1550.6 L1559.9,1551.2 L1561.8,1551.8 L1563.7,1552.4 L1565.6,1552.9 L1567.5,1553.5 L1569.4,1554.0 L1571.3,1554.6 L1573.3,1555.1 L1575.2,1555.6 L1577.1,1556.1 L1579.0,1556.6 L1581.0,1557.0 L1582.9,1557.5 L1584.8,1557.9 L1586.8,1558.4 L1588.7,1558.8 L1590.7,1559.2 L1592.6,1559.6 L1594.6,1560.0 L1596.5,1560.3 L1598.5,1560.7 L1600.5,1561.0 L1602.4,1561.3 L1604.4,1561.6 L1606.4,1561.9 L1608.4,1562.2 L1610.3,1562.5 L1612.3,1562.8 L1614.3,1563.0 L1616.3,1563.3 L1618.3,1563.6 L1620.3,1563.8 L1622.3,1564.0 L1624.3,1564.3 L1626.3,1564.5 L1628.3,1564.8 L1630.3,1565.0 L1632.3,1565.2 L1634.3,1565.4 L1636.3,1565.7 L1638.3,1565.9 L1640.3,1566.1 L1642.3,1566.4 L1644.3,1566.6 L1646.3,1566.8 L1648.3,1566.9 L1650.3,1567.1 L1652.3,1567.1 L1654.3,1567.2 L1656.2,1567.2 L1658.2,1567.1 L1660.1,1567.0 L1662.1,1566.8 L1664.0,1566.6 L1665.9,1566.3 L1667.8,1565.9 L1669.6,1565.4 L1671.5,1564.8 L1673.3,1564.2 L1675.1,1563.6 L1676.9,1562.8 L1678.7,1562.0 L1680.4,1561.1 L1682.1,1560.2 L1683.9,1559.2 L1685.6,1558.1 L1687.2,1557.0 L1688.9,1555.9 L1690.6,1554.8 L1692.2,1553.6 L1693.8,1552.3 L1695.5,1551.1 L1697.1,1549.9 L1698.7,1548.6 L1700.4,1547.4 L1702.0,1546.2 L1703.6,1544.9 L1705.3,1543.7 L1706.9,1542.5 L1708.6,1541.4 L1710.2,1540.2 L1711.9,1539.1 L1713.6,1538.1 L1715.3,1537.1 L1717.0,1536.1 L1718.8,1535.2 L1720.6,1534.4 L1722.3,1533.6 L1724.2,1532.8 L1726.0,1532.1 L1727.8,1531.5 L1729.7,1530.9 L1731.5,1530.3 L1733.4,1529.9 L1735.3,1529.4 L1737.3,1529.0 L1739.2,1528.7 L1741.1,1528.4 L1743.1,1528.2 L1745.1,1528.0 L1747.0,1527.8 L1749.0,1527.6 L1751.0,1527.5 L1753.0,1527.4 L1755.0,1527.3 L1757.0,1527.2 L1759.0,1527.2 L1761.0,1527.1 L1763.0,1527.0 L1765.0,1526.9 L1767.0,1526.8 L1769.0,1526.7 L1771.0,1526.6 L1773.0,1526.5 L1775.0,1526.4 L1777.0,1526.3 L1779.0,1526.1 L1781.0,1526.0 L1783.0,1525.9 L1785.0,1525.8 L1787.0,1525.6 L1789.0,1525.5 L1791.0,1525.4 L1793.0,1525.2 L1795.0,1525.1 L1797.0,1524.9 L1798.9,1524.8 L1800.9,1524.6 L1802.9,1524.4 L1804.9,1524.3 L1806.9,1524.1 L1808.9,1523.9 L1810.9,1523.7 L1812.9,1523.5 L1814.8,1523.3 L1816.8,1523.1 L1818.8,1522.8 L1820.8,1522.6 L1822.8,1522.4 L1824.7,1522.1 L1826.7,1521.8 L1828.7,1521.6 L1830.7,1521.3 L1832.6,1521.0 L1834.6,1520.7 L1836.6,1520.4 L1838.5,1520.1 L1840.5,1519.8 L1842.5,1519.4 L1844.4,1519.1 L1846.4,1518.7 L1848.3,1518.4 L1850.3,1518.0 L1852.2,1517.6 L1854.2,1517.2 L1856.1,1516.8 L1858.1,1516.4 L1860.0,1516.0 L1861.9,1515.5 L1863.9,1515.1 L1865.8,1514.6 L1867.8,1514.1 L1869.7,1513.7 L1871.6,1513.2 L1873.6,1512.7 L1875.5,1512.2 L1877.4,1511.7 L1879.4,1511.1 L1881.3,1510.6 L1883.2,1510.1 L1885.1,1509.5 L1887.1,1509.0 L1889.0,1508.4 L1890.9,1507.8 L1892.8,1507.3 L1894.8,1506.7 L1896.7,1506.1 L1898.6,1505.5 L1900.5,1504.9 L1902.5,1504.3 L1904.4,1503.7 L1906.3,1503.1 L1908.3,1502.6 L1910.2,1502.0 L1912.1,1501.5 L1914.0,1500.9 L1916.0,1500.4 L1917.9,1500.0 L1919.9,1499.5 L1921.8,1499.1 L1923.7,1498.7 L1925.7,1498.4 L1927.6,1498.0 L1929.6,1497.8 L1931.6,1497.5 L1933.5,1497.3 L1935.5,1497.2 L1937.5,1497.1 L1939.4,1497.0 L1941.4,1497.0 L1943.4,1497.1 L1945.4,1497.1 L1947.3,1497.2 L1949.3,1497.4 L1951.3,1497.6 L1953.3,1497.8 L1955.3,1498.1 L1957.2,1498.4 L1959.2,1498.7 L1961.2,1499.1 L1963.1,1499.5 L1965.1,1499.9 L1967.1,1500.3 L1969.0,1500.7 L1971.0,1501.2 L1972.9,1501.7 L1974.9,1502.1 L1976.8,1502.6 L1978.8,1503.0 L1980.7,1503.5 L1982.7,1503.9 L1984.6,1504.4 L1986.6,1504.8 L1988.5,1505.3 L1990.4,1505.7 L1992.4,1506.1 L1994.3,1506.6 L1996.3,1507.0 L1998.3,1507.3 L2000.2,1507.7 L2002.2,1508.1 L2004.1,1508.4 L2006.1,1508.8 L2008.1,1509.1 L2010.0,1509.4 L2012.0,1509.6 L2014.0,1509.9" stroke="#000" stroke-width="10" fill="none" stroke-linejoin="round" stroke-linecap="butt"/>
<path d="M436.0,835.8 L438.0,835.8 L440.0,835.8 L442.0,835.7 L444.0,835.7 L446.0,835.7 L448.0,835.7 L450.0,835.7 L452.0,835.7 L454.0,835.7 L456.0,835.6 L458.0,835.6 L460.0,835.6 L462.0,835.6 L464.0,835.6 L466.0,835.6 L468.0,835.6 L470.0,835.6 L472.0,835.6 L474.0,835.6 L476.0,835.6 L478.0,835.6 L480.0,835.6 L482.0,835.6 L484.0,835.6 L486.0,835.6 L488.0,835.5 L490.0,835.5 L492.0,835.5 L494.0,835.5 L496.0,835.5 L498.0,835.5 L500.0,835.5 L502.0,835.4 L504.0,835.4 L506.0,835.4 L508.0,835.4 L510.0,835.3 L512.0,835.3 L513.9,835.3 L515.9,835.2 L517.9,835.2 L519.9,835.1 L521.9,835.1 L523.9,835.0 L525.9,835.0 L527.9,834.9 L529.9,834.8 L531.9,834.8 L533.9,834.7 L535.9,834.6 L537.9,834.5 L539.9,834.4 L541.9,834.3 L543.8,834.2 L545.8,834.1 L547.8,834.0 L549.8,833.9 L551.8,833.8 L553.8,833.7 L555.8,833.6 L557.8,833.4 L559.8,833.3 L561.8,833.2 L563.8,833.0 L565.8,832.9 L567.8,832.8 L569.8,832.6 L571.8,832.4 L573.8,832.3 L575.8,832.0 L577.8,831.8 L579.8,831.6 L581.8,831.3 L583.8,831.0 L585.8,830.6 L587.7,830.3 L589.7,829.8 L591.6,829.4 L593.5,828.9 L595.4,828.3 L597.3,827.7 L599.2,827.1 L601.0,826.4 L602.9,825.7 L604.7,824.9 L606.5,824.2 L608.3,823.3 L610.1,822.5 L611.9,821.6 L613.7,820.7 L615.5,819.8 L617.2,818.8 L619.0,817.9 L620.7,816.8 L622.5,815.8 L624.2,814.8 L625.9,813.7 L627.6,812.6 L629.2,811.5 L630.9,810.3 L632.5,809.1 L634.1,807.9 L635.7,806.7 L637.2,805.4 L638.8,804.2 L640.3,802.8 L641.7,801.5 L643.2,800.2 L644.6,798.8 L646.0,797.4 L647.4,796.0 L648.8,794.5 L650.2,793.1 L651.5,791.6 L652.9,790.1 L654.2,788.6 L655.5,787.1 L656.8,785.6 L658.1,784.1 L659.4,782.6 L660.7,781.1 L661.9,779.5 L663.2,778.0 L664.5,776.4 L665.7,774.9 L667.0,773.3 L668.2,771.7 L669.4,770.2 L670.6,768.6 L671.9,767.0 L673.1,765.4 L674.3,763.8 L675.5,762.2 L676.6,760.6 L677.8,759.0 L679.0,757.3 L680.1,755.7 L681.3,754.1 L682.4,752.4 L683.6,750.8 L684.7,749.1 L685.8,747.5 L686.9,745.8 L688.1,744.2 L689.2,742.5 L690.3,740.8 L691.4,739.2 L692.4,737.5 L693.5,735.8 L694.6,734.1 L695.7,732.4 L696.8,730.8 L697.9,729.1 L699.0,727.4 L700.0,725.7 L701.1,724.0 L702.2,722.3 L703.3,720.7 L704.4,719.0 L705.5,717.3 L706.5,715.6 L707.6,714.0 L708.7,712.3 L709.8,710.6 L710.9,709.0 L712.1,707.3 L713.2,705.7 L714.3,704.0 L715.4,702.4 L716.6,700.7 L717.7,699.1 L718.9,697.5 L720.0,695.9 L721.2,694.3 L722.4,692.7 L723.6,691.1 L724.8,689.5 L726.0,687.9 L727.2,686.3 L728.5,684.8 L729.7,683.2 L731.0,681.7 L732.3,680.2 L733.6,678.7 L734.9,677.2 L736.3,675.8 L737.8,674.4 L739.2,673.1 L740.8,671.8 L742.4,670.6 L744.1,669.5 L745.8,668.5 L747.6,667.5 L749.5,666.6 L751.3,665.8 L753.2,665.0 L755.1,664.4 L757.0,663.9 L758.9,663.7 L760.9,663.8 L762.8,664.2 L764.7,664.7 L766.6,665.3 L768.5,666.1 L770.3,666.9 L772.1,667.8 L773.9,668.7 L775.7,669.6 L777.4,670.7 L779.1,671.7 L780.8,672.9 L782.4,674.0 L784.0,675.3 L785.6,676.5 L787.1,677.8 L788.6,679.1 L790.1,680.5 L791.5,681.9 L792.9,683.3 L794.3,684.7 L795.6,686.2 L796.9,687.6 L798.3,689.1 L799.6,690.6 L800.9,692.1 L802.2,693.6 L803.5,695.1 L804.8,696.6 L806.1,698.2 L807.4,699.6 L808.8,701.1 L810.1,702.6 L811.5,704.1 L812.9,705.6 L814.2,707.0 L815.6,708.4 L817.0,709.9 L818.5,711.3 L819.9,712.7 L821.4,714.0 L822.8,715.4 L824.3,716.7 L825.9,718.0 L827.4,719.3 L828.9,720.5 L830.5,721.8 L832.1,723.0 L833.7,724.1 L835.3,725.3 L837.0,726.4 L838.7,727.4 L840.4,728.5 L842.1,729.5 L843.9,730.4 L845.7,731.3 L847.5,732.2 L849.3,732.9 L851.2,733.6 L853.0,734.2 L854.9,734.8 L856.9,735.2 L858.8,735.6 L860.8,735.9 L862.8,736.1 L864.8,736.3 L866.8,736.5 L868.8,736.6 L870.8,736.7 L872.8,736.7 L874.8,736.7 L876.8,736.6 L878.8,736.5 L880.8,736.3 L882.8,736.1 L884.8,735.9 L886.7,735.6 L888.7,735.3 L890.6,734.9 L892.6,734.5 L894.5,734.0 L896.5,733.5 L898.4,733.0 L900.3,732.5 L902.2,731.9 L904.1,731.3 L906.0,730.7 L907.9,730.0 L909.8,729.4 L911.7,728.7 L913.6,728.0 L915.4,727.3 L917.3,726.6 L919.2,725.8 L921.1,725.1 L922.9,724.4 L924.8,723.6 L926.6,722.9 L928.5,722.1 L930.3,721.4 L932.2,720.7 L934.0,720.0 L935.9,719.3 L937.7,718.6 L939.6,717.9 L941.4,717.2 L943.3,716.5 L945.2,715.9 L947.1,715.2 L948.9,714.6 L950.9,714.0 L952.8,713.4 L954.7,712.8 L956.6,712.3 L958.6,711.7 L960.6,711.2 L962.6,710.7 L964.6,710.3 L966.6,709.9 L968.6,709.6 L970.6,709.4 L972.6,709.2 L974.5,709.1 L976.5,709.1 L978.5,709.3 L980.4,709.5 L982.3,709.8 L984.2,710.2 L986.1,710.7 L988.0,711.3 L989.9,711.9 L991.7,712.6 L993.5,713.4 L995.3,714.3 L997.1,715.2 L998.8,716.2 L1000.6,717.2 L1002.3,718.2 L1004.0,719.3 L1005.7,720.5 L1007.3,721.7 L1009.0,722.9 L1010.6,724.1 L1012.2,725.3 L1013.7,726.6 L1015.3,727.9 L1016.8,729.2 L1018.3,730.5 L1019.8,731.8 L1021.2,733.1 L1022.7,734.5 L1024.1,735.8 L1025.5,737.2 L1027.0,738.6 L1028.4,740.0 L1029.8,741.4 L1031.2,742.8 L1032.6,744.2 L1033.9,745.7 L1035.3,747.1 L1036.7,748.6 L1038.1,750.0 L1039.5,751.5" stroke="#f00" stroke-width="5" fill="none" stroke-linejoin="round"/>
<path d="M332.0,834.0 L334.0,834.0 L336.0,834.1 L338.0,834.1 L340.0,834.1 L342.0,834.2 L344.0,834.2 L346.0,834.2 L348.0,834.2 L350.0,834.2 L352.0,834.2 L354.0,834.2 L356.0,834.2 L358.0,834.2 L360.0,834.1 L362.0,834.1 L364.0,834.1 L366.0,834.1 L368.0,834.0 L370.0,834.0 L372.0,834.0 L374.0,833.9 L376.0,833.9 L378.0,833.9 L380.0,833.8 L381.9,833.8 L383.9,833.8 L385.9,833.7 L387.9,833.7 L389.9,833.7 L391.9,833.6 L393.9,833.6 L395.9,833.6 L397.9,833.5 L399.9,833.5 L401.9,833.5 L403.9,833.5 L405.9,833.5 L407.9,833.5 L409.9,833.4 L411.9,833.4 L413.9,833.4 L415.9,833.5 L417.9,833.5 L419.9,833.5 L421.9,833.5 L423.9,833.5 L425.9,833.6 L427.9,833.6 L429.9,833.7 L431.9,833.7 L433.9,833.8 L435.9,833.8 L437.9,833.8 L439.9,833.9 L441.9,833.9 L443.9,834.0 L445.9,834.0 L447.9,834.0 L449.9,834.1 L451.9,834.1 L453.9,834.1 L455.9,834.1 L457.9,834.1 L459.9,834.1 L461.9,834.1 L463.9,834.0 L465.9,834.0 L467.9,833.9 L469.9,833.8 L471.9,833.7 L473.9,833.6 L475.9,833.5 L477.9,833.4 L479.9,833.2 L481.9,833.0 L483.9,832.8 L485.9,832.6 L487.8,832.3 L489.8,832.1 L491.8,831.8 L493.8,831.5 L495.7,831.1 L497.7,830.8 L499.7,830.4 L501.6,829.9 L503.5,829.4 L505.4,828.8 L507.3,828.2 L509.1,827.4 L510.8,826.5 L512.4,825.6 L514.0,824.5 L515.6,823.2 L517.0,821.9 L518.3,820.5 L519.6,818.9 L520.8,817.3 L521.9,815.6 L522.9,813.9 L523.8,812.1 L524.7,810.3 L525.5,808.4 L526.2,806.5 L526.8,804.6 L527.4,802.7 L527.9,800.8 L528.4,798.9 L528.9,796.9 L529.3,794.9 L529.6,793.0 L529.9,791.0 L530.2,789.0 L530.5,787.0 L530.8,785.0 L531.0,783.0 L531.3,781.0 L531.5,779.0 L531.7,777.0 L531.9,775.0 L532.1,773.0 L532.3,771.0 L532.5,769.0 L532.7,767.0 L532.9,765.0 L533.0,763.0 L533.2,761.0 L533.4,759.1 L533.5,757.1 L533.6,755.1 L533.8,753.1 L533.9,751.1 L534.1,749.1 L534.2,747.1 L534.3,745.1 L534.4,743.1 L534.5,741.1 L534.6,739.1 L534.7,737.1 L534.8,735.1 L534.9,733.1 L535.0,731.1 L535.1,729.1 L535.2,727.1 L535.3,725.2 L535.4,723.2 L535.5,721.2 L535.6,719.2 L535.6,717.2 L535.7,715.2 L535.8,713.2 L535.9,711.2 L535.9,709.2 L536.0,707.2 L536.1,705.2 L536.2,703.2 L536.2,701.2 L536.3,699.2 L536.4,697.2 L536.4,695.2 L536.5,693.3 L536.6,691.3 L536.7,689.3 L536.7,687.3 L536.8,685.3 L536.9,683.3 L537.0,681.3 L537.1,679.3 L537.1,677.3 L537.2,675.3 L537.3,673.3 L537.4,671.3 L537.4,669.3 L537.5,667.3 L537.6,665.3 L537.7,663.3 L537.8,661.3 L537.8,659.3 L537.9,657.3 L538.0,655.3 L538.1,653.3 L538.2,651.3 L538.2,649.4 L538.3,647.4 L538.4,645.4 L538.5,643.4 L538.6,641.4 L538.7,639.4 L538.7,637.4 L538.8,635.4 L538.9,633.4 L539.0,631.4 L539.1,629.4 L539.2,627.4 L539.2,625.4 L539.3,623.4 L539.4,621.4 L539.5,619.4 L539.6,617.4 L539.7,615.4 L539.8,613.4 L539.8,611.4 L539.9,609.4 L540.0,607.4 L540.1,605.4 L540.2,603.4 L540.3,601.4 L540.4,599.4 L540.4,597.4 L540.5,595.4 L540.6,593.4 L540.7,591.4 L540.8,589.4 L540.9,587.4 L541.0,585.4 L541.0,583.4 L541.1,581.5 L541.2,579.5 L541.3,577.5 L541.4,575.5 L541.5,573.5 L541.6,571.5 L541.6,569.5 L541.7,567.5 L541.8,565.5 L541.9,563.5 L542.0,561.5 L542.1,559.5 L542.2,557.5 L542.2,555.5 L542.3,553.5 L542.4,551.5 L542.5,549.5 L542.6,547.5 L542.7,545.5 L542.7,543.5 L542.8,541.5 L542.9,539.5 L543.0,537.5 L543.1,535.5 L543.2,533.5 L543.3,531.5 L543.3,529.5 L543.4,527.5 L543.5,525.5 L543.6,523.5 L543.7,521.6 L543.7,519.6 L543.8,517.6 L543.9,515.6 L544.0,513.6 L544.1,511.6 L544.2,509.6 L544.2,507.6 L544.3,505.6 L544.4,503.6 L544.5,501.6 L544.6,499.6 L544.6,497.6 L544.7,495.6 L544.8,493.6 L544.9,491.6 L544.9,489.6 L545.0,487.6 L545.1,485.6 L545.2,483.6 L545.2,481.6 L545.3,479.6 L545.4,477.6 L545.5,475.7 L545.5,473.7 L545.6,471.7 L545.7,469.7 L545.7,467.7 L545.8,465.7 L545.9,463.7 L546.0,461.7 L546.0,459.7 L546.1,457.7 L546.2,455.7 L546.2,453.7 L546.3,451.7 L546.3,449.7 L546.4,447.7 L546.5,445.7 L546.5,443.7 L546.6,441.7 L546.6,439.7 L546.7,437.7 L546.8,435.7 L546.8,433.7 L546.9,431.7 L546.9,429.7 L547.0,427.7 L547.1,425.7 L547.1,423.7 L547.2,421.7 L547.3,419.7 L547.3,417.7 L547.4,415.7 L547.5,413.7 L547.5,411.7 L547.6,409.7 L547.7,407.7 L547.8,405.7 L547.9,403.7 L548.0,401.7 L548.1,399.7 L548.2,397.8 L548.4,395.8 L548.5,393.8 L548.6,391.8 L548.8,389.8 L548.9,387.8 L549.1,385.8 L549.2,383.8 L549.4,381.8 L549.6,379.8 L549.8,377.9 L550.0,375.9 L550.2,373.9 L550.4,371.9 L550.6,369.9 L550.9,367.9 L551.1,366.0 L551.4,364.0 L551.7,362.0 L552.1,364.0 L552.4,365.9 L552.8,367.9 L553.1,369.9 L553.3,371.9 L553.6,373.8 L553.8,375.8 L554.0,377.8 L554.2,379.8 L554.4,381.8 L554.6,383.8 L554.7,385.7 L554.8,387.7 L554.9,389.7 L555.1,391.7 L555.1,393.7 L555.2,395.7 L555.3,397.7 L555.4,399.7 L555.5,401.7 L555.5,403.7 L555.6,405.7 L555.6,407.7 L555.7,409.7 L555.8,411.7 L555.8,413.7 L555.9,415.7 L556.0,417.7 L556.0,419.7 L556.1,421.7 L556.2,423.7 L556.2,425.7 L556.3,427.7 L556.4,429.6 L556.5,431.6 L556.5,433.6 L556.6,435.6 L556.7,437.6 L556.8,439.6 L556.8,441.6 L556.9,443.6 L557.0,445.6 L557.1,447.6 L557.2,449.6 L557.2,451.6 L557.3,453.6 L557.4,455.6 L557.5,457.6 L557.6,459.6 L557.6,461.6 L557.7,463.6 L557.8,465.6 L557.9,467.6 L557.9,469.5 L558.0,471.5 L558.1,473.5 L558.2,475.5 L558.2,477.5 L558.3,479.5 L558.4,481.5 L558.4,483.5 L558.5,485.5 L558.6,487.5 L558.7,489.5 L558.7,491.5 L558.8,493.5 L558.9,495.5 L559.0,497.5 L559.0,499.5 L559.1,501.5 L559.2,503.5 L559.2,505.5 L559.3,507.5 L559.4,509.5 L559.5,511.5 L559.5,513.5 L559.6,515.4 L559.7,517.4 L559.8,519.4 L559.8,521.4 L559.9,523.4 L560.0,525.4 L560.1,527.4 L560.1,529.4 L560.2,531.4 L560.3,533.4 L560.4,535.4 L560.5,537.4 L560.5,539.4 L560.6,541.4 L560.7,543.4 L560.8,545.4 L560.9,547.4 L561.0,549.4 L561.0,551.4 L561.1,553.4 L561.2,555.4 L561.3,557.3 L561.4,559.3 L561.5,561.3 L561.6,563.3 L561.7,565.3 L561.8,567.3 L561.9,569.3 L561.9,571.3 L562.0,573.3 L562.1,575.3 L562.2,577.3 L562.3,579.3 L562.4,581.3 L562.5,583.3 L562.6,585.3 L562.7,587.3 L562.8,589.3 L562.9,591.2 L563.0,593.2 L563.1,595.2 L563.2,597.2 L563.3,599.2 L563.4,601.2 L563.5,603.2 L563.6,605.2 L563.7,607.2 L563.8,609.2 L563.9,611.2 L564.0,613.2 L564.1,615.2 L564.2,617.2 L564.3,619.2 L564.4,621.2 L564.5,623.2 L564.6,625.1 L564.7,627.1 L564.8,629.1 L564.9,631.1 L565.0,633.1 L565.1,635.1 L565.2,637.1 L565.3,639.1 L565.4,641.1 L565.5,643.1 L565.6,645.1 L565.7,647.1 L565.8,649.1 L565.9,651.1 L566.0,653.1 L566.1,655.1 L566.2,657.1 L566.3,659.1 L566.4,661.1 L566.5,663.1 L566.6,665.1 L566.7,667.0 L566.8,669.0 L566.9,671.0 L567.0,673.0 L567.1,675.0 L567.2,677.0 L567.3,679.0 L567.4,681.0 L567.5,683.0 L567.7,685.0 L567.8,687.0 L567.9,689.0 L568.0,691.0 L568.2,693.0 L568.3,695.0 L568.4,697.0 L568.6,698.9 L568.7,700.9 L568.8,702.9 L569.0,704.9 L569.1,706.9 L569.3,708.9 L569.5,710.9 L569.6,712.9 L569.8,714.9 L570.0,716.8 L570.2,718.8 L570.3,720.8 L570.5,722.8 L570.7,724.8 L570.9,726.8 L571.1,728.8 L571.3,730.7 L571.5,732.7 L571.8,734.7 L572.0,736.7 L572.2,738.7 L572.4,740.6 L572.7,742.6 L572.9,744.6 L573.2,746.6 L573.4,748.6 L573.7,750.5 L573.9,752.5 L574.2,754.5 L574.5,756.5 L574.8,758.5 L575.0,760.4 L575.3,762.4 L575.6,764.4 L575.9,766.4 L576.2,768.4 L576.5,770.4 L576.8,772.3 L577.1,774.3 L577.5,776.3 L577.8,778.3 L578.2,780.2 L578.6,782.2 L579.0,784.2 L579.4,786.1 L579.9,788.0 L580.5,789.9 L581.1,791.8 L581.7,793.7 L582.4,795.6 L583.2,797.4 L584.0,799.2 L584.9,801.0 L585.9,802.7 L587.0,804.4 L588.1,806.1 L589.4,807.8 L590.7,809.3 L592.1,810.7 L593.6,812.0 L595.3,812.9 L597.0,813.5 L598.8,813.8 L600.8,813.6 L602.8,813.0 L604.7,812.1 L606.6,811.1 L608.4,809.9 L610.0,808.7 L611.6,807.4 L613.0,806.0 L614.4,804.6 L615.7,803.2 L616.9,801.7 L618.2,800.1 L619.4,798.6 L620.6,797.0 L621.8,795.4 L622.9,793.8 L624.1,792.2 L625.1,790.5 L626.2,788.8 L627.2,787.0 L628.1,785.3 L628.9,783.4 L629.7,781.6 L630.4,779.7 L631.1,777.8 L631.8,775.9 L632.5,774.1 L633.3,772.2 L634.1,770.5 L635.0,768.7 L636.0,767.0 L637.2,765.4 L638.4,763.8 L639.8,762.2 L641.3,760.6 L643.0,759.2 L644.7,758.3 L646.5,758.2 L648.2,758.8 L649.8,760.1 L651.3,761.6 L652.6,763.2 L653.7,764.9 L654.7,766.7 L655.5,768.5 L656.3,770.3 L657.0,772.1 L657.6,774.0 L658.2,775.9 L658.9,777.8 L659.5,779.7 L660.2,781.6 L660.8,783.5 L661.5,785.4 L662.2,787.3 L662.9,789.2 L663.7,791.0 L664.4,792.9 L665.2,794.7 L666.1,796.5 L667.0,798.3 L667.9,800.1 L668.9,801.8 L669.9,803.5 L671.0,805.2 L672.1,806.8 L673.3,808.4 L674.5,809.9 L675.8,811.4 L677.2,812.9 L678.7,814.2 L680.3,815.3 L682.0,816.2 L683.8,816.9 L685.8,817.3 L687.8,817.4 L689.8,817.3 L691.8,816.9 L693.7,816.3 L695.5,815.5 L697.2,814.5 L698.8,813.4 L700.4,812.2 L702.0,810.9 L703.4,809.6 L704.9,808.2 L706.3,806.8 L707.6,805.4 L708.9,803.9 L710.1,802.3 L711.3,800.7 L712.5,799.1 L713.6,797.5 L714.7,795.8 L715.8,794.1 L716.8,792.4 L717.7,790.6 L718.7,788.9 L719.6,787.1 L720.5,785.3 L721.3,783.5 L722.1,781.6 L722.9,779.8 L723.7,778.0 L724.4,776.1 L725.2,774.3 L725.9,772.4 L726.5,770.5 L727.2,768.6 L727.8,766.8 L728.5,764.9 L729.1,763.0 L729.7,761.1 L730.3,759.1 L730.9,757.2 L731.4,755.3 L732.0,753.4 L732.6,751.5 L733.1,749.6 L733.7,747.6 L734.2,745.7 L734.8,743.8 L735.4,741.9 L735.9,740.0 L736.5,738.1 L737.0,736.1 L737.6,734.2 L738.2,732.3 L738.8,730.4 L739.4,728.5 L740.0,726.6 L740.7,724.8 L741.3,722.9 L742.0,721.0 L742.7,719.1 L743.4,717.3 L744.1,715.4 L744.8,713.6 L745.6,711.8 L746.4,709.9 L747.2,708.1 L748.1,706.3 L749.1,704.5 L750.2,702.7 L751.5,700.8 L753.1,699.1 L754.7,697.8 L756.3,697.1 L757.9,697.4 L759.3,698.6 L760.7,700.2 L762.0,701.9 L763.3,703.5 L764.4,705.2 L765.3,707.0 L766.1,708.8 L766.8,710.7 L767.5,712.5 L768.3,714.3 L769.1,716.1 L769.9,717.8 L770.7,719.6 L771.6,721.4 L772.4,723.3 L773.1,725.3 L773.9,727.4 L774.6,729.5 L775.6,731.2 L776.9,732.5 L778.6,732.9 L780.5,732.7 L782.1,731.9 L783.4,730.6 L784.5,729.0 L785.5,727.1 L786.3,725.1 L787.0,723.0 L787.8,721.0 L788.5,719.1 L789.2,717.3 L789.8,715.5 L790.5,713.7 L791.1,711.9 L791.6,710.0 L792.1,708.1 L792.6,706.1 L793.1,704.2 L793.6,702.2 L794.1,700.3 L794.5,698.3 L795.0,696.3 L795.4,694.4 L795.9,692.4 L796.4,690.5 L796.9,688.6 L797.3,686.6 L797.8,684.7 L798.3,682.7 L798.8,680.8 L799.3,678.9 L799.8,676.9 L800.3,675.0 L800.7,673.1 L801.2,671.2 L801.7,669.2 L802.2,667.3 L802.6,665.3 L803.1,663.4 L803.6,661.5 L804.0,659.5 L804.5,657.6 L804.9,655.6 L805.4,653.7 L805.9,651.7 L806.4,649.8 L806.9,647.9 L807.4,646.0 L808.0,644.0 L808.5,642.1 L809.1,640.2 L809.8,638.4 L810.7,636.5 L811.8,634.7 L813.2,633.0 L814.8,631.5 L816.5,630.4 L818.3,630.0 L820.0,630.4 L821.7,631.5 L823.3,632.8 L825.0,634.1 L826.6,635.4 L828.1,636.7 L829.4,638.2 L830.6,639.7 L831.6,641.4 L832.5,643.1 L833.4,644.9 L834.3,646.7 L835.1,648.5 L835.9,650.4 L836.7,652.2 L837.4,654.0 L838.2,655.9 L838.9,657.7 L839.6,659.6 L840.3,661.5 L841.0,663.3 L841.7,665.2 L842.4,667.1 L843.1,669.0 L843.8,670.8 L844.5,672.7 L845.3,674.6 L846.0,676.5 L846.7,678.3 L847.5,680.2 L848.2,682.0 L849.0,683.8 L849.8,685.7 L850.6,687.5 L851.4,689.3 L852.2,691.2 L853.0,693.0 L853.8,694.8 L854.6,696.6 L855.5,698.4 L856.3,700.3 L857.1,702.1 L857.9,703.9 L858.7,705.7 L859.5,707.6 L860.3,709.4 L861.0,711.2 L861.8,713.1 L862.5,714.9 L863.2,716.8 L863.9,718.7 L864.6,720.6 L865.3,722.5 L865.9,724.4 L866.5,726.3 L867.1,728.2 L867.7,730.1 L868.3,732.0 L868.9,734.0 L869.4,735.9 L870.0,737.8 L870.7,739.7 L871.3,741.6 L872.0,743.4 L872.7,745.3 L873.4,747.1 L874.2,748.9 L875.1,750.7 L876.0,752.5 L876.9,754.2 L877.9,755.9 L879.0,757.5 L880.2,759.1 L881.5,760.7 L882.8,762.2 L884.3,763.7 L885.8,765.0 L887.4,766.2 L889.0,767.2 L890.8,768.1 L892.6,768.7 L894.5,769.2 L896.4,769.6 L898.4,769.9 L900.4,770.0 L902.4,770.2 L904.4,770.3 L906.4,770.3 L908.5,770.5 L910.5,770.6 L912.5,770.8 L914.5,771.0 L916.5,771.2 L918.5,771.5 L920.5,771.8 L922.4,772.1 L924.4,772.4 L926.4,772.8 L928.3,773.1 L930.3,773.5 L932.2,773.9 L934.2,774.4 L936.1,774.8 L938.1,775.2 L940.0,775.7 L941.9,776.2 L943.9,776.7 L945.8,777.2 L947.7,777.6 L949.7,778.2 L951.6,778.7 L953.5,779.2 L955.4,779.7 L957.4,780.2 L959.3,780.7 L961.2,781.2 L963.1,781.7 L965.1,782.2 L967.0,782.7 L968.9,783.2 L970.9,783.7 L972.8,784.2 L974.8,784.6 L976.7,785.1 L978.6,785.5 L980.6,785.9 L982.6,786.3 L984.5,786.7 L986.5,787.0 L988.5,787.4 L990.4,787.7 L992.4,787.9 L994.4,788.2 L996.4,788.4 L998.4,788.5 L1000.4,788.6 L1002.3,788.7 L1004.3,788.7 L1006.3,788.6 L1008.3,788.5 L1010.3,788.4 L1012.3,788.1 L1014.3,787.8 L1016.2,787.4 L1018.1,786.9 L1020.0,786.2 L1021.8,785.5 L1023.5,784.6 L1025.2,783.6 L1026.8,782.4 L1028.3,781.1 L1029.7,779.7 L1031.1,778.2 L1032.4,776.7 L1033.7,775.1 L1034.9,773.5 L1036.1,771.8 L1037.3,770.2 L1038.4,768.6 L1039.5,767.0" stroke="#000" stroke-width="5.5" fill="none" stroke-linejoin="round"/>
<rect x="329.2" y="264.5" width="1685.3" height="1445.2" fill="none" stroke="#000" stroke-width="6"/>
<text transform="translate(185.89,1720.20) scale(1.0000,1)" font-size="81.5" fill="#000">0.0</text>
<text transform="translate(186.79,1481.40) scale(1.0000,1)" font-size="81.5" fill="#000">0.2</text>
<text transform="translate(185.08,1242.60) scale(1.0000,1)" font-size="81.5" fill="#000">0.4</text>
<text transform="translate(186.30,1003.80) scale(1.0000,1)" font-size="81.5" fill="#000">0.6</text>
<text transform="translate(186.22,765.00) scale(1.0000,1)" font-size="81.5" fill="#000">0.8</text>
<text transform="translate(185.89,526.20) scale(1.0000,1)" font-size="81.5" fill="#000">1.0</text>
<text transform="translate(186.79,287.40) scale(1.0000,1)" font-size="81.5" fill="#000">1.2</text>
<text transform="translate(272.90,1803.50) scale(0.9550,1)" font-size="85" fill="#000">1.5</text>
<text transform="translate(554.72,1803.50) scale(0.9550,1)" font-size="85" fill="#000">2.0</text>
<text transform="translate(835.73,1803.50) scale(0.9550,1)" font-size="85" fill="#000">2.5</text>
<text transform="translate(1116.97,1803.50) scale(0.9550,1)" font-size="85" fill="#000">3.0</text>
<text transform="translate(1397.98,1803.50) scale(0.9550,1)" font-size="85" fill="#000">3.5</text>
<text transform="translate(1679.35,1803.50) scale(0.9550,1)" font-size="85" fill="#000">4.0</text>
<text transform="translate(1960.35,1803.50) scale(0.9550,1)" font-size="85" fill="#000">4.5</text>
<text transform="translate(354.51,903.50) scale(1.0300,1)" font-size="38.5" fill="#000">1.6</text>
<text transform="translate(464.29,903.50) scale(1.0300,1)" font-size="38.5" fill="#000">1.8</text>
<text transform="translate(574.52,903.50) scale(1.0300,1)" font-size="38.5" fill="#000">2.0</text>
<text transform="translate(684.54,903.50) scale(1.0300,1)" font-size="38.5" fill="#000">2.2</text>
<text transform="translate(793.92,903.50) scale(1.0300,1)" font-size="38.5" fill="#000">2.4</text>
<text transform="translate(904.02,903.50) scale(1.0300,1)" font-size="38.5" fill="#000">2.6</text>
<text transform="translate(1013.80,903.50) scale(1.0300,1)" font-size="38.5" fill="#000">2.8</text>
<text transform="translate(1050.50,844.50) scale(1.0000,1)" font-size="38.5" fill="#000">0.0</text>
<text transform="translate(1050.50,617.50) scale(1.0000,1)" font-size="38.5" fill="#000">0.1</text>
<text transform="translate(1050.50,390.50) scale(1.0000,1)" font-size="38.5" fill="#000">0.2</text>
<text transform="translate(917.56,1897.60) scale(1.0058,1)" font-size="95" fill="#000">Energy (eV)</text>
<text transform="translate(115.90,1362.38) rotate(-90) scale(0.9988,1)" font-size="95.5" fill="#000">Intensity (arb. units)</text>
<text transform="translate(1212.74,430.00) scale(1.0093,1)" font-size="94" fill="#00f">Soret band</text>
<text transform="translate(406.72,1362.80) scale(1.0028,1)" font-size="95" fill="#00f">Q' band</text>
<text transform="translate(708.17,1545.00) scale(0.9965,1)" font-size="94.5" fill="#00f">Q'' band</text>
<text transform="translate(1206.86,635.60) scale(1.0349,1)" font-size="93.5" fill="#000">2.98</text>
<text transform="translate(1538.24,604.60) scale(0.9765,1)" font-size="96" fill="#f00">3.50</text>
<text transform="translate(403.80,399.80) scale(0.9065,1)" font-size="61" fill="#000">1.91</text>
<text transform="translate(609.44,636.40) scale(0.9650,1)" font-size="63.5" fill="#f00">2.29</text>
<text transform="translate(776.99,605.80) scale(0.9870,1)" font-size="61" fill="#000">2.40</text>
<text transform="translate(867.58,678.30) scale(0.9514,1)" font-size="63.5" fill="#f00">2.69</text>
</svg>
</body></html>
